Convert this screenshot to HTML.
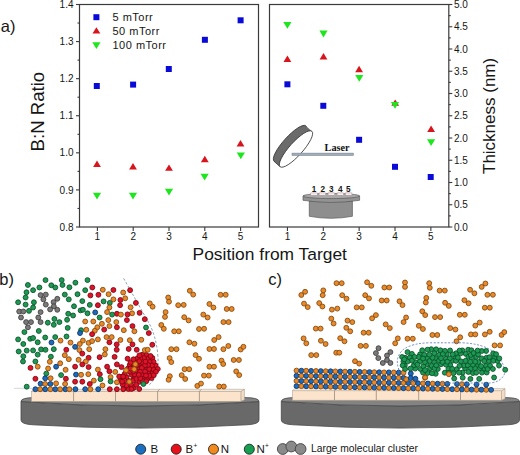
<!DOCTYPE html>
<html><head><meta charset="utf-8"><style>
html,body{margin:0;padding:0;background:#fff;overflow:hidden;}
svg{display:block;font-family:"Liberation Sans",sans-serif;}
</style></head><body>
<svg width="520" height="455" viewBox="0 0 520 455" font-family="Liberation Sans, sans-serif">
<rect width="520" height="455" fill="#fff"/>
<rect x="79.5" y="4.5" width="179.0" height="222.5" fill="none" stroke="#3a3a3a" stroke-width="1.2"/>
<line x1="97.40" y1="227" x2="97.40" y2="231" stroke="#3a3a3a" stroke-width="1.1"/>
<text x="97.40" y="240.3" font-size="10" text-anchor="middle" fill="#161616">1</text>
<line x1="133.20" y1="227" x2="133.20" y2="231" stroke="#3a3a3a" stroke-width="1.1"/>
<text x="133.20" y="240.3" font-size="10" text-anchor="middle" fill="#161616">2</text>
<line x1="169.00" y1="227" x2="169.00" y2="231" stroke="#3a3a3a" stroke-width="1.1"/>
<text x="169.00" y="240.3" font-size="10" text-anchor="middle" fill="#161616">3</text>
<line x1="204.80" y1="227" x2="204.80" y2="231" stroke="#3a3a3a" stroke-width="1.1"/>
<text x="204.80" y="240.3" font-size="10" text-anchor="middle" fill="#161616">4</text>
<line x1="240.60" y1="227" x2="240.60" y2="231" stroke="#3a3a3a" stroke-width="1.1"/>
<text x="240.60" y="240.3" font-size="10" text-anchor="middle" fill="#161616">5</text>
<rect x="269.5" y="4.5" width="179.3" height="222.5" fill="none" stroke="#3a3a3a" stroke-width="1.2"/>
<line x1="287.43" y1="227" x2="287.43" y2="231" stroke="#3a3a3a" stroke-width="1.1"/>
<text x="287.43" y="240.3" font-size="10" text-anchor="middle" fill="#161616">1</text>
<line x1="323.29" y1="227" x2="323.29" y2="231" stroke="#3a3a3a" stroke-width="1.1"/>
<text x="323.29" y="240.3" font-size="10" text-anchor="middle" fill="#161616">2</text>
<line x1="359.15" y1="227" x2="359.15" y2="231" stroke="#3a3a3a" stroke-width="1.1"/>
<text x="359.15" y="240.3" font-size="10" text-anchor="middle" fill="#161616">3</text>
<line x1="395.01" y1="227" x2="395.01" y2="231" stroke="#3a3a3a" stroke-width="1.1"/>
<text x="395.01" y="240.3" font-size="10" text-anchor="middle" fill="#161616">4</text>
<line x1="430.87" y1="227" x2="430.87" y2="231" stroke="#3a3a3a" stroke-width="1.1"/>
<text x="430.87" y="240.3" font-size="10" text-anchor="middle" fill="#161616">5</text>
<line x1="76.0" y1="227.00" x2="79.5" y2="227.00" stroke="#3a3a3a" stroke-width="1.1"/>
<text x="73.5" y="230.60" font-size="10" text-anchor="end" fill="#161616">0.8</text>
<line x1="77.5" y1="208.46" x2="79.5" y2="208.46" stroke="#3a3a3a" stroke-width="1.1"/>
<line x1="76.0" y1="189.92" x2="79.5" y2="189.92" stroke="#3a3a3a" stroke-width="1.1"/>
<text x="73.5" y="193.52" font-size="10" text-anchor="end" fill="#161616">0.9</text>
<line x1="77.5" y1="171.38" x2="79.5" y2="171.38" stroke="#3a3a3a" stroke-width="1.1"/>
<line x1="76.0" y1="152.83" x2="79.5" y2="152.83" stroke="#3a3a3a" stroke-width="1.1"/>
<text x="73.5" y="156.43" font-size="10" text-anchor="end" fill="#161616">1.0</text>
<line x1="77.5" y1="134.29" x2="79.5" y2="134.29" stroke="#3a3a3a" stroke-width="1.1"/>
<line x1="76.0" y1="115.75" x2="79.5" y2="115.75" stroke="#3a3a3a" stroke-width="1.1"/>
<text x="73.5" y="119.35" font-size="10" text-anchor="end" fill="#161616">1.1</text>
<line x1="77.5" y1="97.21" x2="79.5" y2="97.21" stroke="#3a3a3a" stroke-width="1.1"/>
<line x1="76.0" y1="78.67" x2="79.5" y2="78.67" stroke="#3a3a3a" stroke-width="1.1"/>
<text x="73.5" y="82.27" font-size="10" text-anchor="end" fill="#161616">1.2</text>
<line x1="77.5" y1="60.12" x2="79.5" y2="60.12" stroke="#3a3a3a" stroke-width="1.1"/>
<line x1="76.0" y1="41.58" x2="79.5" y2="41.58" stroke="#3a3a3a" stroke-width="1.1"/>
<text x="73.5" y="45.18" font-size="10" text-anchor="end" fill="#161616">1.3</text>
<line x1="77.5" y1="23.04" x2="79.5" y2="23.04" stroke="#3a3a3a" stroke-width="1.1"/>
<line x1="76.0" y1="4.50" x2="79.5" y2="4.50" stroke="#3a3a3a" stroke-width="1.1"/>
<text x="73.5" y="8.10" font-size="10" text-anchor="end" fill="#161616">1.4</text>
<line x1="448.8" y1="227.00" x2="452.3" y2="227.00" stroke="#3a3a3a" stroke-width="1.1"/>
<text x="454" y="230.60" font-size="10" fill="#161616">0.0</text>
<line x1="448.8" y1="215.88" x2="450.8" y2="215.88" stroke="#3a3a3a" stroke-width="1.1"/>
<line x1="448.8" y1="204.75" x2="452.3" y2="204.75" stroke="#3a3a3a" stroke-width="1.1"/>
<text x="454" y="208.35" font-size="10" fill="#161616">0.5</text>
<line x1="448.8" y1="193.62" x2="450.8" y2="193.62" stroke="#3a3a3a" stroke-width="1.1"/>
<line x1="448.8" y1="182.50" x2="452.3" y2="182.50" stroke="#3a3a3a" stroke-width="1.1"/>
<text x="454" y="186.10" font-size="10" fill="#161616">1.0</text>
<line x1="448.8" y1="171.38" x2="450.8" y2="171.38" stroke="#3a3a3a" stroke-width="1.1"/>
<line x1="448.8" y1="160.25" x2="452.3" y2="160.25" stroke="#3a3a3a" stroke-width="1.1"/>
<text x="454" y="163.85" font-size="10" fill="#161616">1.5</text>
<line x1="448.8" y1="149.12" x2="450.8" y2="149.12" stroke="#3a3a3a" stroke-width="1.1"/>
<line x1="448.8" y1="138.00" x2="452.3" y2="138.00" stroke="#3a3a3a" stroke-width="1.1"/>
<text x="454" y="141.60" font-size="10" fill="#161616">2.0</text>
<line x1="448.8" y1="126.88" x2="450.8" y2="126.88" stroke="#3a3a3a" stroke-width="1.1"/>
<line x1="448.8" y1="115.75" x2="452.3" y2="115.75" stroke="#3a3a3a" stroke-width="1.1"/>
<text x="454" y="119.35" font-size="10" fill="#161616">2.5</text>
<line x1="448.8" y1="104.62" x2="450.8" y2="104.62" stroke="#3a3a3a" stroke-width="1.1"/>
<line x1="448.8" y1="93.50" x2="452.3" y2="93.50" stroke="#3a3a3a" stroke-width="1.1"/>
<text x="454" y="97.10" font-size="10" fill="#161616">3.0</text>
<line x1="448.8" y1="82.38" x2="450.8" y2="82.38" stroke="#3a3a3a" stroke-width="1.1"/>
<line x1="448.8" y1="71.25" x2="452.3" y2="71.25" stroke="#3a3a3a" stroke-width="1.1"/>
<text x="454" y="74.85" font-size="10" fill="#161616">3.5</text>
<line x1="448.8" y1="60.12" x2="450.8" y2="60.12" stroke="#3a3a3a" stroke-width="1.1"/>
<line x1="448.8" y1="49.00" x2="452.3" y2="49.00" stroke="#3a3a3a" stroke-width="1.1"/>
<text x="454" y="52.60" font-size="10" fill="#161616">4.0</text>
<line x1="448.8" y1="37.88" x2="450.8" y2="37.88" stroke="#3a3a3a" stroke-width="1.1"/>
<line x1="448.8" y1="26.75" x2="452.3" y2="26.75" stroke="#3a3a3a" stroke-width="1.1"/>
<text x="454" y="30.35" font-size="10" fill="#161616">4.5</text>
<line x1="448.8" y1="15.62" x2="450.8" y2="15.62" stroke="#3a3a3a" stroke-width="1.1"/>
<line x1="448.8" y1="4.50" x2="452.3" y2="4.50" stroke="#3a3a3a" stroke-width="1.1"/>
<text x="454" y="8.10" font-size="10" fill="#161616">5.0</text>
<text x="192.6" y="259.6" font-size="17.4" fill="#161616">Position from Target</text>
<text transform="translate(43.8,151.4) rotate(-90)" font-size="18.6" fill="#161616">B:N Ratio</text>
<text transform="translate(495,174) rotate(-90)" font-size="17" fill="#161616">Thickness (nm)</text>
<text x="0.8" y="31.6" font-size="16.5" fill="#161616">a)</text>
<text x="-0.8" y="284.6" font-size="16.5" fill="#161616">b)</text>
<text x="268.3" y="284.6" font-size="16.5" fill="#161616">c)</text>
<rect x="93.80" y="83.00" width="6" height="6" fill="#0a0ad8"/>
<rect x="130.10" y="81.60" width="6" height="6" fill="#0a0ad8"/>
<rect x="165.80" y="66.00" width="6" height="6" fill="#0a0ad8"/>
<rect x="201.90" y="36.80" width="6" height="6" fill="#0a0ad8"/>
<rect x="237.60" y="17.30" width="6" height="6" fill="#0a0ad8"/>
<path d="M97.00,160.60L100.90,167.00L93.10,167.00Z" fill="#d8141c"/>
<path d="M133.00,163.10L136.90,169.50L129.10,169.50Z" fill="#d8141c"/>
<path d="M169.00,164.40L172.90,170.80L165.10,170.80Z" fill="#d8141c"/>
<path d="M204.80,155.80L208.70,162.20L200.90,162.20Z" fill="#d8141c"/>
<path d="M240.50,140.10L244.40,146.50L236.60,146.50Z" fill="#d8141c"/>
<path d="M92.90,192.70L101.10,192.70L97.00,199.50Z" fill="#1ee61e"/>
<path d="M128.90,192.70L137.10,192.70L133.00,199.50Z" fill="#1ee61e"/>
<path d="M164.90,188.70L173.10,188.70L169.00,195.50Z" fill="#1ee61e"/>
<path d="M200.50,173.70L208.70,173.70L204.60,180.50Z" fill="#1ee61e"/>
<path d="M236.70,152.40L244.90,152.40L240.80,159.20Z" fill="#1ee61e"/>
<rect x="93.40" y="14.20" width="6" height="6" fill="#0a0ad8"/>
<path d="M96.40,27.20L100.30,33.60L92.50,33.60Z" fill="#d8141c"/>
<path d="M92.30,42.20L100.50,42.20L96.40,49.00Z" fill="#1ee61e"/>
<text x="112.5" y="20.8" font-size="11" letter-spacing="0.5" fill="#161616">5 mTorr</text>
<text x="112.5" y="34.6" font-size="11" letter-spacing="0.5" fill="#161616">50 mTorr</text>
<text x="112.5" y="48.6" font-size="11" letter-spacing="0.5" fill="#161616">100 mTorr</text>
<rect x="284.40" y="81.30" width="6" height="6" fill="#0a0ad8"/>
<rect x="320.30" y="102.80" width="6" height="6" fill="#0a0ad8"/>
<rect x="356.10" y="136.80" width="6" height="6" fill="#0a0ad8"/>
<rect x="392.00" y="163.80" width="6" height="6" fill="#0a0ad8"/>
<rect x="427.70" y="174.00" width="6" height="6" fill="#0a0ad8"/>
<path d="M287.40,55.60L291.30,62.00L283.50,62.00Z" fill="#d8141c"/>
<path d="M323.50,53.00L327.40,59.40L319.60,59.40Z" fill="#d8141c"/>
<path d="M359.10,65.80L363.00,72.20L355.20,72.20Z" fill="#d8141c"/>
<path d="M395.20,99.40L399.10,105.80L391.30,105.80Z" fill="#d8141c"/>
<path d="M431.10,125.50L435.00,131.90L427.20,131.90Z" fill="#d8141c"/>
<path d="M283.30,21.90L291.50,21.90L287.40,28.70Z" fill="#1ee61e"/>
<path d="M319.40,30.60L327.60,30.60L323.50,37.40Z" fill="#1ee61e"/>
<path d="M355.20,75.00L363.40,75.00L359.30,81.80Z" fill="#1ee61e"/>
<path d="M390.90,101.90L399.10,101.90L395.00,108.70Z" fill="#1ee61e"/>
<path d="M427.00,139.20L435.20,139.20L431.10,146.00Z" fill="#1ee61e"/>
<ellipse cx="290.00" cy="143.60" rx="23.8" ry="6.6" transform="rotate(-48.0 290.00 143.60)" fill="#6b6b6b" stroke="#333" stroke-width="0.8"/>
<path d="M311.93,131.31 L305.93,125.91 L274.07,161.29 L280.07,166.69 Z" fill="#6b6b6b"/>
<line x1="280.07" y1="166.69" x2="274.07" y2="161.29" stroke="#333" stroke-width="0.8"/>
<ellipse cx="296.0" cy="149.0" rx="23.8" ry="6.6" transform="rotate(-48.0 296.0 149.0)" fill="#fff" stroke="#333" stroke-width="0.8"/>
<rect x="292" y="153.1" width="61.5" height="2.4" fill="#a3adb9" stroke="#6d7a88" stroke-width="0.5"/>
<text x="324.6" y="150.8" font-size="10.2" font-weight="bold" font-family="Liberation Serif, serif" fill="#111">Laser</text>
<path d="M309.3,201 L309.3,216.3 Q330.8,220.3 352.4,216.3 L352.4,201 Z" fill="#8e8e8e" stroke="#5a5a5a" stroke-width="0.7"/>
<path d="M303,196 L303,200.3 Q331.3,204.6 359.6,200.3 L359.6,196 Z" fill="#939393" stroke="#5a5a5a" stroke-width="0.7"/>
<ellipse cx="331.3" cy="196" rx="28.3" ry="2.6" fill="#a9a9a9" stroke="#5a5a5a" stroke-width="0.7"/>
<rect x="310.8" y="192.9" width="6.5" height="2.4" fill="#fbeaec" stroke="#9a8a8e" stroke-width="0.45"/>
<rect x="319.1" y="192.9" width="6.5" height="2.4" fill="#fbeaec" stroke="#9a8a8e" stroke-width="0.45"/>
<rect x="328.1" y="192.9" width="6.5" height="2.4" fill="#fbeaec" stroke="#9a8a8e" stroke-width="0.45"/>
<rect x="337.1" y="192.9" width="6.5" height="2.4" fill="#fbeaec" stroke="#9a8a8e" stroke-width="0.45"/>
<rect x="345.4" y="192.9" width="6.5" height="2.4" fill="#fbeaec" stroke="#9a8a8e" stroke-width="0.45"/>
<text x="314.1" y="191.8" font-size="8.2" font-weight="bold" text-anchor="middle" fill="#161616">1</text>
<text x="322.7" y="191.8" font-size="8.2" font-weight="bold" text-anchor="middle" fill="#161616">2</text>
<text x="331.2" y="191.8" font-size="8.2" font-weight="bold" text-anchor="middle" fill="#161616">3</text>
<text x="340.4" y="191.8" font-size="8.2" font-weight="bold" text-anchor="middle" fill="#161616">4</text>
<text x="348.2" y="191.8" font-size="8.2" font-weight="bold" text-anchor="middle" fill="#161616">5</text>
<path d="M21,401.5 Q140.0,410.5 259,401.5 L259,420 Q259,424.2 247,424.8 Q140.0,431.4 33,424.8 Q21,424.2 21,420 Z" fill="#696969" stroke="#484848" stroke-width="0.8"/>
<path d="M21,401.5 Q21,397.6 35,397.6 L245,397.6 Q259,397.6 259,401.5 Q140.0,410.5 21,401.5 Z" fill="#838383" stroke="#4a4a4a" stroke-width="0.8"/>
<path d="M240.9,391.3 L244.4,389.3 L244.4,399.8 L240.9,401.3 Z" fill="#f4dcc4" stroke="#a8a098" stroke-width="0.6"/>
<rect x="31.6" y="391.3" width="209.3" height="10.0" fill="#fce3cc" stroke="#b3a594" stroke-width="0.6"/>
<path d="M31.6,391.3 L33.6,389.3 L244.4,389.3 L240.9,391.3 Z" fill="#fdf0e3" stroke="#b3a594" stroke-width="0.6"/>
<path d="M73.6,401.3 L73.6,391.3 L75.6,389.3" fill="none" stroke="#9a8a78" stroke-width="0.8"/>
<path d="M115.5,401.3 L115.5,391.3 L117.5,389.3" fill="none" stroke="#9a8a78" stroke-width="0.8"/>
<path d="M157.6,401.3 L157.6,391.3 L159.6,389.3" fill="none" stroke="#9a8a78" stroke-width="0.8"/>
<path d="M199.4,401.3 L199.4,391.3 L201.4,389.3" fill="none" stroke="#9a8a78" stroke-width="0.8"/>
<path d="M281.3,401.5 Q400.4,410.5 519.5,401.5 L519.5,420 Q519.5,424.2 507.5,424.8 Q400.4,431.4 293.3,424.8 Q281.3,424.2 281.3,420 Z" fill="#696969" stroke="#484848" stroke-width="0.8"/>
<path d="M281.3,401.5 Q281.3,397.6 295.3,397.6 L505.5,397.6 Q519.5,397.6 519.5,401.5 Q400.4,410.5 281.3,401.5 Z" fill="#838383" stroke="#4a4a4a" stroke-width="0.8"/>
<path d="M501.5,390.7 L505,388.7 L505,398.7 L501.5,400.2 Z" fill="#f4dcc4" stroke="#a8a098" stroke-width="0.6"/>
<rect x="292.5" y="390.7" width="209.0" height="9.5" fill="#fce3cc" stroke="#b3a594" stroke-width="0.6"/>
<path d="M292.5,390.7 L294.5,388.7 L505,388.7 L501.5,390.7 Z" fill="#fdf0e3" stroke="#b3a594" stroke-width="0.6"/>
<path d="M334.5,400.2 L334.5,390.7 L336.5,388.7" fill="none" stroke="#9a8a78" stroke-width="0.8"/>
<path d="M376.3,400.2 L376.3,390.7 L378.3,388.7" fill="none" stroke="#9a8a78" stroke-width="0.8"/>
<path d="M418.7,400.2 L418.7,390.7 L420.7,388.7" fill="none" stroke="#9a8a78" stroke-width="0.8"/>
<path d="M460.5,400.2 L460.5,390.7 L462.5,388.7" fill="none" stroke="#9a8a78" stroke-width="0.8"/>
<line x1="14" y1="388.3" x2="32" y2="388.3" stroke="#b8b8b8" stroke-width="0.6"/>
<path d="M123.6,278.3 L150,325 C153.5,332 156.5,342 157.5,352 C158.5,362 158.5,370 156,376 C154,380 151.5,383 149,385" fill="none" stroke="#8fa3b6" stroke-width="1" stroke-dasharray="2.6,1.8"/>
<circle cx="146.3" cy="355.0" r="2.45" fill="#e0122a" stroke="#7a0810" stroke-width="0.9"/>
<circle cx="148.3" cy="358.4" r="2.45" fill="#e0122a" stroke="#7a0810" stroke-width="0.9"/>
<circle cx="131.4" cy="385.4" r="2.45" fill="#e0122a" stroke="#7a0810" stroke-width="0.9"/>
<circle cx="144.7" cy="377.6" r="2.45" fill="#e0122a" stroke="#7a0810" stroke-width="0.9"/>
<circle cx="133.6" cy="388.1" r="2.45" fill="#e0122a" stroke="#7a0810" stroke-width="0.9"/>
<circle cx="132.5" cy="364.7" r="2.45" fill="#e0122a" stroke="#7a0810" stroke-width="0.9"/>
<circle cx="142.1" cy="354.8" r="2.45" fill="#e0122a" stroke="#7a0810" stroke-width="0.9"/>
<circle cx="126.5" cy="377.2" r="2.45" fill="#e0122a" stroke="#7a0810" stroke-width="0.9"/>
<circle cx="128.5" cy="389.0" r="2.45" fill="#e0122a" stroke="#7a0810" stroke-width="0.9"/>
<circle cx="120.6" cy="380.8" r="2.45" fill="#e0122a" stroke="#7a0810" stroke-width="0.9"/>
<circle cx="152.4" cy="358.0" r="2.45" fill="#e0122a" stroke="#7a0810" stroke-width="0.9"/>
<circle cx="143.9" cy="358.0" r="2.45" fill="#e0122a" stroke="#7a0810" stroke-width="0.9"/>
<circle cx="141.1" cy="365.0" r="2.45" fill="#e0122a" stroke="#7a0810" stroke-width="0.9"/>
<circle cx="147.5" cy="378.8" r="2.45" fill="#e0122a" stroke="#7a0810" stroke-width="0.9"/>
<circle cx="136.6" cy="371.6" r="2.45" fill="#e0122a" stroke="#7a0810" stroke-width="0.9"/>
<circle cx="133.7" cy="378.9" r="2.45" fill="#e0122a" stroke="#7a0810" stroke-width="0.9"/>
<circle cx="131.4" cy="374.7" r="2.45" fill="#e0122a" stroke="#7a0810" stroke-width="0.9"/>
<circle cx="155.5" cy="365.5" r="2.45" fill="#e0122a" stroke="#7a0810" stroke-width="0.9"/>
<circle cx="135.7" cy="362.5" r="2.45" fill="#e0122a" stroke="#7a0810" stroke-width="0.9"/>
<circle cx="152.2" cy="372.2" r="2.45" fill="#e0122a" stroke="#7a0810" stroke-width="0.9"/>
<circle cx="129.7" cy="365.0" r="2.45" fill="#e0122a" stroke="#7a0810" stroke-width="0.9"/>
<circle cx="129.4" cy="381.0" r="2.45" fill="#e0122a" stroke="#7a0810" stroke-width="0.9"/>
<circle cx="122.9" cy="376.4" r="2.45" fill="#e0122a" stroke="#7a0810" stroke-width="0.9"/>
<circle cx="127.9" cy="368.6" r="2.45" fill="#e0122a" stroke="#7a0810" stroke-width="0.9"/>
<circle cx="133.2" cy="380.5" r="2.45" fill="#e0122a" stroke="#7a0810" stroke-width="0.9"/>
<circle cx="124.4" cy="380.6" r="2.45" fill="#e0122a" stroke="#7a0810" stroke-width="0.9"/>
<circle cx="146.9" cy="368.0" r="2.45" fill="#e0122a" stroke="#7a0810" stroke-width="0.9"/>
<circle cx="124.8" cy="373.8" r="2.45" fill="#e0122a" stroke="#7a0810" stroke-width="0.9"/>
<circle cx="153.1" cy="369.1" r="2.45" fill="#e0122a" stroke="#7a0810" stroke-width="0.9"/>
<circle cx="130.7" cy="362.4" r="2.45" fill="#e0122a" stroke="#7a0810" stroke-width="0.9"/>
<circle cx="140.3" cy="358.5" r="2.45" fill="#e0122a" stroke="#7a0810" stroke-width="0.9"/>
<circle cx="153.6" cy="361.9" r="2.45" fill="#e0122a" stroke="#7a0810" stroke-width="0.9"/>
<circle cx="137.1" cy="358.7" r="2.45" fill="#e0122a" stroke="#7a0810" stroke-width="0.9"/>
<circle cx="139.2" cy="367.8" r="2.45" fill="#e0122a" stroke="#7a0810" stroke-width="0.9"/>
<circle cx="142.0" cy="374.8" r="2.45" fill="#e0122a" stroke="#7a0810" stroke-width="0.9"/>
<circle cx="148.5" cy="371.2" r="2.45" fill="#e0122a" stroke="#7a0810" stroke-width="0.9"/>
<circle cx="139.5" cy="381.8" r="2.45" fill="#e0122a" stroke="#7a0810" stroke-width="0.9"/>
<circle cx="150.5" cy="356.0" r="2.45" fill="#e0122a" stroke="#7a0810" stroke-width="0.9"/>
<circle cx="151.5" cy="378.1" r="2.45" fill="#e0122a" stroke="#7a0810" stroke-width="0.9"/>
<circle cx="149.6" cy="362.0" r="2.45" fill="#e0122a" stroke="#7a0810" stroke-width="0.9"/>
<circle cx="142.7" cy="362.6" r="2.45" fill="#e0122a" stroke="#7a0810" stroke-width="0.9"/>
<circle cx="157.8" cy="369.0" r="2.45" fill="#e0122a" stroke="#7a0810" stroke-width="0.9"/>
<circle cx="145.1" cy="371.6" r="2.45" fill="#e0122a" stroke="#7a0810" stroke-width="0.9"/>
<circle cx="136.5" cy="378.9" r="2.45" fill="#e0122a" stroke="#7a0810" stroke-width="0.9"/>
<circle cx="124.1" cy="388.2" r="2.45" fill="#e0122a" stroke="#7a0810" stroke-width="0.9"/>
<circle cx="134.2" cy="367.9" r="2.45" fill="#e0122a" stroke="#7a0810" stroke-width="0.9"/>
<circle cx="151.9" cy="365.6" r="2.45" fill="#e0122a" stroke="#7a0810" stroke-width="0.9"/>
<circle cx="149.4" cy="375.8" r="2.45" fill="#e0122a" stroke="#7a0810" stroke-width="0.9"/>
<circle cx="134.5" cy="374.3" r="2.45" fill="#e0122a" stroke="#7a0810" stroke-width="0.9"/>
<circle cx="132.9" cy="371.6" r="2.45" fill="#e0122a" stroke="#7a0810" stroke-width="0.9"/>
<circle cx="126.4" cy="385.4" r="2.45" fill="#e0122a" stroke="#7a0810" stroke-width="0.9"/>
<circle cx="122.5" cy="384.4" r="2.45" fill="#e0122a" stroke="#7a0810" stroke-width="0.9"/>
<circle cx="149.2" cy="369.0" r="2.45" fill="#e0122a" stroke="#7a0810" stroke-width="0.9"/>
<circle cx="139.3" cy="361.2" r="2.45" fill="#e0122a" stroke="#7a0810" stroke-width="0.9"/>
<circle cx="148.0" cy="365.0" r="2.45" fill="#e0122a" stroke="#7a0810" stroke-width="0.9"/>
<circle cx="144.9" cy="365.4" r="2.45" fill="#e0122a" stroke="#7a0810" stroke-width="0.9"/>
<circle cx="133.5" cy="359.3" r="2.45" fill="#e0122a" stroke="#7a0810" stroke-width="0.9"/>
<circle cx="155.9" cy="371.8" r="2.45" fill="#e0122a" stroke="#7a0810" stroke-width="0.9"/>
<circle cx="146.0" cy="375.5" r="2.45" fill="#e0122a" stroke="#7a0810" stroke-width="0.9"/>
<circle cx="136.7" cy="365.4" r="2.45" fill="#e0122a" stroke="#7a0810" stroke-width="0.9"/>
<circle cx="141.8" cy="367.9" r="2.45" fill="#e0122a" stroke="#7a0810" stroke-width="0.9"/>
<circle cx="139.4" cy="355.4" r="2.45" fill="#e0122a" stroke="#7a0810" stroke-width="0.9"/>
<circle cx="129.8" cy="371.6" r="2.45" fill="#e0122a" stroke="#7a0810" stroke-width="0.9"/>
<circle cx="136.3" cy="384.8" r="2.45" fill="#e0122a" stroke="#7a0810" stroke-width="0.9"/>
<circle cx="130.6" cy="368.6" r="2.45" fill="#e0122a" stroke="#7a0810" stroke-width="0.9"/>
<circle cx="153.7" cy="375.2" r="2.45" fill="#e0122a" stroke="#7a0810" stroke-width="0.9"/>
<circle cx="142.6" cy="380.9" r="2.45" fill="#e0122a" stroke="#7a0810" stroke-width="0.9"/>
<circle cx="140.0" cy="371.8" r="2.45" fill="#e0122a" stroke="#7a0810" stroke-width="0.9"/>
<circle cx="145.5" cy="361.6" r="2.45" fill="#e0122a" stroke="#7a0810" stroke-width="0.9"/>
<circle cx="146.2" cy="381.3" r="2.45" fill="#e0122a" stroke="#7a0810" stroke-width="0.9"/>
<circle cx="140.3" cy="378.2" r="2.45" fill="#e0122a" stroke="#7a0810" stroke-width="0.9"/>
<circle cx="138.7" cy="374.8" r="2.45" fill="#e0122a" stroke="#7a0810" stroke-width="0.9"/>
<circle cx="45.5" cy="280.1" r="2.45" fill="#1c9a54" stroke="#0b5229" stroke-width="0.9"/>
<circle cx="61.7" cy="280.1" r="2.45" fill="#1c9a54" stroke="#0b5229" stroke-width="0.9"/>
<circle cx="62.5" cy="285.0" r="2.45" fill="#1c9a54" stroke="#0b5229" stroke-width="0.9"/>
<circle cx="27.9" cy="285.0" r="2.45" fill="#1c9a54" stroke="#0b5229" stroke-width="0.9"/>
<circle cx="39.4" cy="287.5" r="2.45" fill="#1c9a54" stroke="#0b5229" stroke-width="0.9"/>
<circle cx="51.3" cy="285.3" r="2.45" fill="#1c9a54" stroke="#0b5229" stroke-width="0.9"/>
<circle cx="55.3" cy="287.5" r="2.45" fill="#1c9a54" stroke="#0b5229" stroke-width="0.9"/>
<circle cx="33.1" cy="290.2" r="2.45" fill="#1c9a54" stroke="#0b5229" stroke-width="0.9"/>
<circle cx="26.5" cy="292.3" r="2.45" fill="#1c9a54" stroke="#0b5229" stroke-width="0.9"/>
<circle cx="25.6" cy="297.5" r="2.45" fill="#1c9a54" stroke="#0b5229" stroke-width="0.9"/>
<circle cx="64.8" cy="294.6" r="2.45" fill="#1c9a54" stroke="#0b5229" stroke-width="0.9"/>
<circle cx="69.4" cy="287.3" r="2.45" fill="#1c9a54" stroke="#0b5229" stroke-width="0.9"/>
<circle cx="68.8" cy="299.4" r="2.45" fill="#1c9a54" stroke="#0b5229" stroke-width="0.9"/>
<circle cx="18.1" cy="302.3" r="2.45" fill="#1c9a54" stroke="#0b5229" stroke-width="0.9"/>
<circle cx="33.9" cy="302.3" r="2.45" fill="#1c9a54" stroke="#0b5229" stroke-width="0.9"/>
<circle cx="25.6" cy="304.6" r="2.45" fill="#1c9a54" stroke="#0b5229" stroke-width="0.9"/>
<circle cx="33.1" cy="307.5" r="2.45" fill="#1c9a54" stroke="#0b5229" stroke-width="0.9"/>
<circle cx="29.0" cy="310.9" r="2.45" fill="#1c9a54" stroke="#0b5229" stroke-width="0.9"/>
<circle cx="68.2" cy="313.8" r="2.45" fill="#1c9a54" stroke="#0b5229" stroke-width="0.9"/>
<circle cx="40.6" cy="295.1" r="2.45" fill="#7a7a7a" stroke="#404040" stroke-width="0.9"/>
<circle cx="45.8" cy="294.6" r="2.45" fill="#7a7a7a" stroke="#404040" stroke-width="0.9"/>
<circle cx="43.4" cy="299.4" r="2.45" fill="#7a7a7a" stroke="#404040" stroke-width="0.9"/>
<circle cx="45.8" cy="304.6" r="2.45" fill="#7a7a7a" stroke="#404040" stroke-width="0.9"/>
<circle cx="57.3" cy="298.8" r="2.45" fill="#7a7a7a" stroke="#404040" stroke-width="0.9"/>
<circle cx="53.6" cy="302.1" r="2.45" fill="#7a7a7a" stroke="#404040" stroke-width="0.9"/>
<circle cx="53.8" cy="306.3" r="2.45" fill="#7a7a7a" stroke="#404040" stroke-width="0.9"/>
<circle cx="50.1" cy="309.4" r="2.45" fill="#7a7a7a" stroke="#404040" stroke-width="0.9"/>
<circle cx="57.3" cy="309.8" r="2.45" fill="#7a7a7a" stroke="#404040" stroke-width="0.9"/>
<circle cx="19.2" cy="311.5" r="2.45" fill="#7a7a7a" stroke="#404040" stroke-width="0.9"/>
<circle cx="23.3" cy="311.5" r="2.45" fill="#7a7a7a" stroke="#404040" stroke-width="0.9"/>
<circle cx="40.6" cy="312.1" r="2.45" fill="#7a7a7a" stroke="#404040" stroke-width="0.9"/>
<circle cx="87.5" cy="280.1" r="2.45" fill="#1c9a54" stroke="#0b5229" stroke-width="0.9"/>
<circle cx="75.4" cy="282.7" r="2.45" fill="#1c9a54" stroke="#0b5229" stroke-width="0.9"/>
<circle cx="85.2" cy="290.2" r="2.45" fill="#1c9a54" stroke="#0b5229" stroke-width="0.9"/>
<circle cx="77.5" cy="294.2" r="2.45" fill="#1c9a54" stroke="#0b5229" stroke-width="0.9"/>
<circle cx="82.3" cy="301.1" r="2.45" fill="#1c9a54" stroke="#0b5229" stroke-width="0.9"/>
<circle cx="74.0" cy="306.3" r="2.45" fill="#1c9a54" stroke="#0b5229" stroke-width="0.9"/>
<circle cx="89.8" cy="304.9" r="2.45" fill="#1c9a54" stroke="#0b5229" stroke-width="0.9"/>
<circle cx="103.6" cy="301.4" r="2.45" fill="#1c9a54" stroke="#0b5229" stroke-width="0.9"/>
<circle cx="109.8" cy="302.9" r="2.45" fill="#1c9a54" stroke="#0b5229" stroke-width="0.9"/>
<circle cx="80.6" cy="310.4" r="2.45" fill="#1c9a54" stroke="#0b5229" stroke-width="0.9"/>
<circle cx="82.9" cy="309.8" r="2.45" fill="#1c9a54" stroke="#0b5229" stroke-width="0.9"/>
<circle cx="87.5" cy="313.3" r="2.45" fill="#1c9a54" stroke="#0b5229" stroke-width="0.9"/>
<circle cx="92.3" cy="287.5" r="2.45" fill="#e0122a" stroke="#7a0810" stroke-width="0.9"/>
<circle cx="113.4" cy="290.0" r="2.45" fill="#e0122a" stroke="#7a0810" stroke-width="0.9"/>
<circle cx="90.4" cy="295.4" r="2.45" fill="#e0122a" stroke="#7a0810" stroke-width="0.9"/>
<circle cx="98.4" cy="294.8" r="2.45" fill="#e0122a" stroke="#7a0810" stroke-width="0.9"/>
<circle cx="120.4" cy="300.0" r="2.45" fill="#e0122a" stroke="#7a0810" stroke-width="0.9"/>
<circle cx="120.1" cy="305.2" r="2.45" fill="#e0122a" stroke="#7a0810" stroke-width="0.9"/>
<circle cx="97.9" cy="305.2" r="2.45" fill="#e0122a" stroke="#7a0810" stroke-width="0.9"/>
<circle cx="116.9" cy="313.8" r="2.45" fill="#e0122a" stroke="#7a0810" stroke-width="0.9"/>
<circle cx="102.8" cy="289.8" r="2.45" fill="#e8892a" stroke="#874a0c" stroke-width="0.9"/>
<circle cx="108.6" cy="294.2" r="2.45" fill="#e8892a" stroke="#874a0c" stroke-width="0.9"/>
<circle cx="113.4" cy="299.4" r="2.45" fill="#e8892a" stroke="#874a0c" stroke-width="0.9"/>
<circle cx="123.2" cy="292.5" r="2.45" fill="#e8892a" stroke="#874a0c" stroke-width="0.9"/>
<circle cx="109.4" cy="307.5" r="2.45" fill="#e8892a" stroke="#874a0c" stroke-width="0.9"/>
<circle cx="107.1" cy="312.1" r="2.45" fill="#e8892a" stroke="#874a0c" stroke-width="0.9"/>
<circle cx="95.2" cy="312.4" r="2.45" fill="#1c6abd" stroke="#0c3566" stroke-width="0.9"/>
<circle cx="130.1" cy="290.2" r="2.45" fill="#e0122a" stroke="#7a0810" stroke-width="0.9"/>
<circle cx="125.2" cy="298.3" r="2.45" fill="#e8892a" stroke="#874a0c" stroke-width="0.9"/>
<circle cx="135.9" cy="302.9" r="2.45" fill="#e0122a" stroke="#7a0810" stroke-width="0.9"/>
<circle cx="130.6" cy="307.3" r="2.45" fill="#e8892a" stroke="#874a0c" stroke-width="0.9"/>
<circle cx="132.1" cy="313.3" r="2.45" fill="#e8892a" stroke="#874a0c" stroke-width="0.9"/>
<circle cx="127.5" cy="314.4" r="2.45" fill="#e0122a" stroke="#7a0810" stroke-width="0.9"/>
<circle cx="139.6" cy="312.9" r="2.45" fill="#e0122a" stroke="#7a0810" stroke-width="0.9"/>
<circle cx="149.8" cy="303.4" r="2.45" fill="#e8892a" stroke="#874a0c" stroke-width="0.9"/>
<circle cx="152.6" cy="306.7" r="2.45" fill="#e8892a" stroke="#874a0c" stroke-width="0.9"/>
<circle cx="168.2" cy="297.5" r="2.45" fill="#e8892a" stroke="#874a0c" stroke-width="0.9"/>
<circle cx="169.0" cy="301.7" r="2.45" fill="#e8892a" stroke="#874a0c" stroke-width="0.9"/>
<circle cx="178.2" cy="305.2" r="2.45" fill="#e8892a" stroke="#874a0c" stroke-width="0.9"/>
<circle cx="165.6" cy="312.1" r="2.45" fill="#e8892a" stroke="#874a0c" stroke-width="0.9"/>
<circle cx="183.7" cy="304.9" r="2.45" fill="#e8892a" stroke="#874a0c" stroke-width="0.9"/>
<circle cx="189.8" cy="290.8" r="2.45" fill="#e8892a" stroke="#874a0c" stroke-width="0.9"/>
<circle cx="193.2" cy="294.6" r="2.45" fill="#e8892a" stroke="#874a0c" stroke-width="0.9"/>
<circle cx="220.6" cy="294.8" r="2.45" fill="#e8892a" stroke="#874a0c" stroke-width="0.9"/>
<circle cx="225.7" cy="294.8" r="2.45" fill="#e8892a" stroke="#874a0c" stroke-width="0.9"/>
<circle cx="209.4" cy="304.0" r="2.45" fill="#e8892a" stroke="#874a0c" stroke-width="0.9"/>
<circle cx="213.4" cy="307.5" r="2.45" fill="#e8892a" stroke="#874a0c" stroke-width="0.9"/>
<circle cx="226.7" cy="309.0" r="2.45" fill="#e8892a" stroke="#874a0c" stroke-width="0.9"/>
<circle cx="231.7" cy="309.0" r="2.45" fill="#e8892a" stroke="#874a0c" stroke-width="0.9"/>
<circle cx="21.0" cy="317.5" r="2.45" fill="#7a7a7a" stroke="#404040" stroke-width="0.9"/>
<circle cx="38.3" cy="317.5" r="2.45" fill="#7a7a7a" stroke="#404040" stroke-width="0.9"/>
<circle cx="40.6" cy="322.1" r="2.45" fill="#7a7a7a" stroke="#404040" stroke-width="0.9"/>
<circle cx="26.1" cy="322.1" r="2.45" fill="#7a7a7a" stroke="#404040" stroke-width="0.9"/>
<circle cx="31.0" cy="322.1" r="2.45" fill="#7a7a7a" stroke="#404040" stroke-width="0.9"/>
<circle cx="27.9" cy="327.3" r="2.45" fill="#7a7a7a" stroke="#404040" stroke-width="0.9"/>
<circle cx="54.4" cy="319.0" r="2.45" fill="#1c9a54" stroke="#0b5229" stroke-width="0.9"/>
<circle cx="47.8" cy="322.7" r="2.45" fill="#1c9a54" stroke="#0b5229" stroke-width="0.9"/>
<circle cx="53.8" cy="324.8" r="2.45" fill="#1c9a54" stroke="#0b5229" stroke-width="0.9"/>
<circle cx="59.4" cy="322.1" r="2.45" fill="#1c9a54" stroke="#0b5229" stroke-width="0.9"/>
<circle cx="67.1" cy="319.8" r="2.45" fill="#1c9a54" stroke="#0b5229" stroke-width="0.9"/>
<circle cx="67.7" cy="327.9" r="2.45" fill="#1c9a54" stroke="#0b5229" stroke-width="0.9"/>
<circle cx="24.4" cy="332.1" r="2.45" fill="#1c9a54" stroke="#0b5229" stroke-width="0.9"/>
<circle cx="38.8" cy="331.0" r="2.45" fill="#1c9a54" stroke="#0b5229" stroke-width="0.9"/>
<circle cx="18.1" cy="339.4" r="2.45" fill="#1c9a54" stroke="#0b5229" stroke-width="0.9"/>
<circle cx="30.2" cy="338.8" r="2.45" fill="#1c9a54" stroke="#0b5229" stroke-width="0.9"/>
<circle cx="33.1" cy="338.0" r="2.45" fill="#1c9a54" stroke="#0b5229" stroke-width="0.9"/>
<circle cx="23.3" cy="344.0" r="2.45" fill="#1c9a54" stroke="#0b5229" stroke-width="0.9"/>
<circle cx="37.7" cy="342.3" r="2.45" fill="#1c9a54" stroke="#0b5229" stroke-width="0.9"/>
<circle cx="45.2" cy="337.5" r="2.45" fill="#1c9a54" stroke="#0b5229" stroke-width="0.9"/>
<circle cx="55.2" cy="337.1" r="2.45" fill="#1c9a54" stroke="#0b5229" stroke-width="0.9"/>
<circle cx="66.5" cy="336.5" r="2.45" fill="#1c9a54" stroke="#0b5229" stroke-width="0.9"/>
<circle cx="18.7" cy="351.5" r="2.45" fill="#1c9a54" stroke="#0b5229" stroke-width="0.9"/>
<circle cx="26.7" cy="350.6" r="2.45" fill="#1c9a54" stroke="#0b5229" stroke-width="0.9"/>
<circle cx="33.1" cy="350.4" r="2.45" fill="#1c9a54" stroke="#0b5229" stroke-width="0.9"/>
<circle cx="41.1" cy="349.4" r="2.45" fill="#1c9a54" stroke="#0b5229" stroke-width="0.9"/>
<circle cx="45.5" cy="349.8" r="2.45" fill="#1c9a54" stroke="#0b5229" stroke-width="0.9"/>
<circle cx="53.8" cy="349.2" r="2.45" fill="#1c9a54" stroke="#0b5229" stroke-width="0.9"/>
<circle cx="51.5" cy="342.5" r="2.45" fill="#1c6abd" stroke="#0c3566" stroke-width="0.9"/>
<circle cx="60.5" cy="340.6" r="2.45" fill="#e8892a" stroke="#874a0c" stroke-width="0.9"/>
<circle cx="66.3" cy="349.8" r="2.45" fill="#e0122a" stroke="#7a0810" stroke-width="0.9"/>
<circle cx="112.1" cy="314.6" r="2.45" fill="#1c9a54" stroke="#0b5229" stroke-width="0.9"/>
<circle cx="120.9" cy="314.6" r="2.45" fill="#e8892a" stroke="#874a0c" stroke-width="0.9"/>
<circle cx="73.1" cy="315.5" r="2.45" fill="#1c9a54" stroke="#0b5229" stroke-width="0.9"/>
<circle cx="99.6" cy="317.5" r="2.45" fill="#1c9a54" stroke="#0b5229" stroke-width="0.9"/>
<circle cx="85.2" cy="321.5" r="2.45" fill="#e8892a" stroke="#874a0c" stroke-width="0.9"/>
<circle cx="93.3" cy="321.5" r="2.45" fill="#e8892a" stroke="#874a0c" stroke-width="0.9"/>
<circle cx="108.3" cy="320.1" r="2.45" fill="#e8892a" stroke="#874a0c" stroke-width="0.9"/>
<circle cx="116.3" cy="322.1" r="2.45" fill="#e8892a" stroke="#874a0c" stroke-width="0.9"/>
<circle cx="101.9" cy="323.8" r="2.45" fill="#e8892a" stroke="#874a0c" stroke-width="0.9"/>
<circle cx="97.3" cy="327.3" r="2.45" fill="#e8892a" stroke="#874a0c" stroke-width="0.9"/>
<circle cx="109.4" cy="326.1" r="2.45" fill="#e8892a" stroke="#874a0c" stroke-width="0.9"/>
<circle cx="116.9" cy="327.3" r="2.45" fill="#e0122a" stroke="#7a0810" stroke-width="0.9"/>
<circle cx="81.1" cy="330.2" r="2.45" fill="#1c9a54" stroke="#0b5229" stroke-width="0.9"/>
<circle cx="80.0" cy="333.1" r="2.45" fill="#1c6abd" stroke="#0c3566" stroke-width="0.9"/>
<circle cx="86.3" cy="329.8" r="2.45" fill="#e8892a" stroke="#874a0c" stroke-width="0.9"/>
<circle cx="94.8" cy="330.8" r="2.45" fill="#e8892a" stroke="#874a0c" stroke-width="0.9"/>
<circle cx="104.2" cy="329.6" r="2.45" fill="#e0122a" stroke="#7a0810" stroke-width="0.9"/>
<circle cx="92.1" cy="334.2" r="2.45" fill="#e0122a" stroke="#7a0810" stroke-width="0.9"/>
<circle cx="123.8" cy="330.2" r="2.45" fill="#e8892a" stroke="#874a0c" stroke-width="0.9"/>
<circle cx="106.5" cy="337.1" r="2.45" fill="#e8892a" stroke="#874a0c" stroke-width="0.9"/>
<circle cx="111.7" cy="337.1" r="2.45" fill="#e8892a" stroke="#874a0c" stroke-width="0.9"/>
<circle cx="120.4" cy="340.0" r="2.45" fill="#e8892a" stroke="#874a0c" stroke-width="0.9"/>
<circle cx="97.9" cy="339.4" r="2.45" fill="#e8892a" stroke="#874a0c" stroke-width="0.9"/>
<circle cx="109.4" cy="342.3" r="2.45" fill="#e0122a" stroke="#7a0810" stroke-width="0.9"/>
<circle cx="70.5" cy="342.6" r="2.45" fill="#e8892a" stroke="#874a0c" stroke-width="0.9"/>
<circle cx="82.9" cy="340.6" r="2.45" fill="#e8892a" stroke="#874a0c" stroke-width="0.9"/>
<circle cx="79.8" cy="344.0" r="2.45" fill="#e8892a" stroke="#874a0c" stroke-width="0.9"/>
<circle cx="88.6" cy="342.9" r="2.45" fill="#e8892a" stroke="#874a0c" stroke-width="0.9"/>
<circle cx="92.1" cy="341.1" r="2.45" fill="#e8892a" stroke="#874a0c" stroke-width="0.9"/>
<circle cx="75.1" cy="346.9" r="2.45" fill="#1c6abd" stroke="#0c3566" stroke-width="0.9"/>
<circle cx="116.7" cy="344.4" r="2.45" fill="#e0122a" stroke="#7a0810" stroke-width="0.9"/>
<circle cx="116.7" cy="349.8" r="2.45" fill="#e0122a" stroke="#7a0810" stroke-width="0.9"/>
<circle cx="89.2" cy="349.2" r="2.45" fill="#e8892a" stroke="#874a0c" stroke-width="0.9"/>
<circle cx="79.4" cy="350.1" r="2.45" fill="#e8892a" stroke="#874a0c" stroke-width="0.9"/>
<circle cx="105.4" cy="349.2" r="2.45" fill="#e8892a" stroke="#874a0c" stroke-width="0.9"/>
<circle cx="82.3" cy="353.6" r="2.45" fill="#e0122a" stroke="#7a0810" stroke-width="0.9"/>
<circle cx="126.9" cy="320.1" r="2.45" fill="#e0122a" stroke="#7a0810" stroke-width="0.9"/>
<circle cx="165.0" cy="316.9" r="2.45" fill="#e8892a" stroke="#874a0c" stroke-width="0.9"/>
<circle cx="144.8" cy="319.2" r="2.45" fill="#e0122a" stroke="#7a0810" stroke-width="0.9"/>
<circle cx="132.5" cy="326.1" r="2.45" fill="#e0122a" stroke="#7a0810" stroke-width="0.9"/>
<circle cx="146.0" cy="327.5" r="2.45" fill="#1c9a54" stroke="#0b5229" stroke-width="0.9"/>
<circle cx="134.4" cy="331.3" r="2.45" fill="#e8892a" stroke="#874a0c" stroke-width="0.9"/>
<circle cx="148.8" cy="333.1" r="2.45" fill="#e0122a" stroke="#7a0810" stroke-width="0.9"/>
<circle cx="161.3" cy="325.0" r="2.45" fill="#e8892a" stroke="#874a0c" stroke-width="0.9"/>
<circle cx="163.8" cy="328.8" r="2.45" fill="#e8892a" stroke="#874a0c" stroke-width="0.9"/>
<circle cx="174.2" cy="331.3" r="2.45" fill="#e8892a" stroke="#874a0c" stroke-width="0.9"/>
<circle cx="178.8" cy="331.3" r="2.45" fill="#e8892a" stroke="#874a0c" stroke-width="0.9"/>
<circle cx="129.8" cy="340.2" r="2.45" fill="#e8892a" stroke="#874a0c" stroke-width="0.9"/>
<circle cx="132.5" cy="344.4" r="2.45" fill="#e0122a" stroke="#7a0810" stroke-width="0.9"/>
<circle cx="141.3" cy="339.8" r="2.45" fill="#e8892a" stroke="#874a0c" stroke-width="0.9"/>
<circle cx="152.3" cy="344.8" r="2.45" fill="#e0122a" stroke="#7a0810" stroke-width="0.9"/>
<circle cx="128.7" cy="349.0" r="2.45" fill="#e0122a" stroke="#7a0810" stroke-width="0.9"/>
<circle cx="136.7" cy="349.8" r="2.45" fill="#e0122a" stroke="#7a0810" stroke-width="0.9"/>
<circle cx="144.8" cy="350.1" r="2.45" fill="#e8892a" stroke="#874a0c" stroke-width="0.9"/>
<circle cx="147.7" cy="349.8" r="2.45" fill="#e8892a" stroke="#874a0c" stroke-width="0.9"/>
<circle cx="171.3" cy="349.2" r="2.45" fill="#e8892a" stroke="#874a0c" stroke-width="0.9"/>
<circle cx="176.5" cy="349.2" r="2.45" fill="#e8892a" stroke="#874a0c" stroke-width="0.9"/>
<circle cx="184.2" cy="317.2" r="2.45" fill="#e8892a" stroke="#874a0c" stroke-width="0.9"/>
<circle cx="188.6" cy="320.4" r="2.45" fill="#e8892a" stroke="#874a0c" stroke-width="0.9"/>
<circle cx="203.3" cy="314.6" r="2.45" fill="#e8892a" stroke="#874a0c" stroke-width="0.9"/>
<circle cx="207.6" cy="317.5" r="2.45" fill="#e8892a" stroke="#874a0c" stroke-width="0.9"/>
<circle cx="223.4" cy="322.1" r="2.45" fill="#e8892a" stroke="#874a0c" stroke-width="0.9"/>
<circle cx="228.6" cy="322.1" r="2.45" fill="#e8892a" stroke="#874a0c" stroke-width="0.9"/>
<circle cx="199.0" cy="329.0" r="2.45" fill="#e8892a" stroke="#874a0c" stroke-width="0.9"/>
<circle cx="204.1" cy="328.8" r="2.45" fill="#e8892a" stroke="#874a0c" stroke-width="0.9"/>
<circle cx="214.2" cy="340.0" r="2.45" fill="#e8892a" stroke="#874a0c" stroke-width="0.9"/>
<circle cx="218.6" cy="337.1" r="2.45" fill="#e8892a" stroke="#874a0c" stroke-width="0.9"/>
<circle cx="189.4" cy="342.3" r="2.45" fill="#e8892a" stroke="#874a0c" stroke-width="0.9"/>
<circle cx="194.4" cy="343.7" r="2.45" fill="#e8892a" stroke="#874a0c" stroke-width="0.9"/>
<circle cx="209.4" cy="349.0" r="2.45" fill="#e8892a" stroke="#874a0c" stroke-width="0.9"/>
<circle cx="214.0" cy="349.0" r="2.45" fill="#e8892a" stroke="#874a0c" stroke-width="0.9"/>
<circle cx="223.4" cy="349.2" r="2.45" fill="#e8892a" stroke="#874a0c" stroke-width="0.9"/>
<circle cx="228.3" cy="346.0" r="2.45" fill="#e8892a" stroke="#874a0c" stroke-width="0.9"/>
<circle cx="240.7" cy="349.5" r="2.45" fill="#e8892a" stroke="#874a0c" stroke-width="0.9"/>
<circle cx="243.4" cy="346.8" r="2.45" fill="#e8892a" stroke="#874a0c" stroke-width="0.9"/>
<circle cx="37.7" cy="354.6" r="2.45" fill="#1c9a54" stroke="#0b5229" stroke-width="0.9"/>
<circle cx="23.3" cy="356.3" r="2.45" fill="#1c9a54" stroke="#0b5229" stroke-width="0.9"/>
<circle cx="64.8" cy="355.2" r="2.45" fill="#e8892a" stroke="#874a0c" stroke-width="0.9"/>
<circle cx="68.8" cy="359.2" r="2.45" fill="#e8892a" stroke="#874a0c" stroke-width="0.9"/>
<circle cx="23.0" cy="361.5" r="2.45" fill="#1c9a54" stroke="#0b5229" stroke-width="0.9"/>
<circle cx="50.9" cy="356.7" r="2.45" fill="#1c9a54" stroke="#0b5229" stroke-width="0.9"/>
<circle cx="49.8" cy="361.8" r="2.45" fill="#e8892a" stroke="#874a0c" stroke-width="0.9"/>
<circle cx="35.4" cy="361.5" r="2.45" fill="#1c9a54" stroke="#0b5229" stroke-width="0.9"/>
<circle cx="37.7" cy="366.7" r="2.45" fill="#e8892a" stroke="#874a0c" stroke-width="0.9"/>
<circle cx="30.5" cy="367.9" r="2.45" fill="#e0122a" stroke="#7a0810" stroke-width="0.9"/>
<circle cx="60.2" cy="363.3" r="2.45" fill="#e8892a" stroke="#874a0c" stroke-width="0.9"/>
<circle cx="56.1" cy="366.7" r="2.45" fill="#1c6abd" stroke="#0c3566" stroke-width="0.9"/>
<circle cx="48.1" cy="368.5" r="2.45" fill="#e8892a" stroke="#874a0c" stroke-width="0.9"/>
<circle cx="65.6" cy="369.8" r="2.45" fill="#e8892a" stroke="#874a0c" stroke-width="0.9"/>
<circle cx="46.3" cy="373.6" r="2.45" fill="#1c9a54" stroke="#0b5229" stroke-width="0.9"/>
<circle cx="61.1" cy="375.1" r="2.45" fill="#1c9a54" stroke="#0b5229" stroke-width="0.9"/>
<circle cx="35.4" cy="378.8" r="2.45" fill="#e0122a" stroke="#7a0810" stroke-width="0.9"/>
<circle cx="45.2" cy="378.3" r="2.45" fill="#1c6abd" stroke="#0c3566" stroke-width="0.9"/>
<circle cx="50.6" cy="378.3" r="2.45" fill="#e8892a" stroke="#874a0c" stroke-width="0.9"/>
<circle cx="65.9" cy="378.8" r="2.45" fill="#e0122a" stroke="#7a0810" stroke-width="0.9"/>
<circle cx="40.6" cy="383.7" r="2.45" fill="#1c6abd" stroke="#0c3566" stroke-width="0.9"/>
<circle cx="45.2" cy="384.0" r="2.45" fill="#e8892a" stroke="#874a0c" stroke-width="0.9"/>
<circle cx="50.4" cy="384.0" r="2.45" fill="#1c6abd" stroke="#0c3566" stroke-width="0.9"/>
<circle cx="56.1" cy="383.4" r="2.45" fill="#e8892a" stroke="#874a0c" stroke-width="0.9"/>
<circle cx="65.1" cy="384.0" r="2.45" fill="#e8892a" stroke="#874a0c" stroke-width="0.9"/>
<circle cx="26.7" cy="386.7" r="2.45" fill="#1c9a54" stroke="#0b5229" stroke-width="0.9"/>
<circle cx="35.4" cy="389.2" r="2.45" fill="#1c6abd" stroke="#0c3566" stroke-width="0.9"/>
<circle cx="40.2" cy="389.2" r="2.45" fill="#e8892a" stroke="#874a0c" stroke-width="0.9"/>
<circle cx="45.2" cy="389.2" r="2.45" fill="#1c6abd" stroke="#0c3566" stroke-width="0.9"/>
<circle cx="50.4" cy="389.2" r="2.45" fill="#e8892a" stroke="#874a0c" stroke-width="0.9"/>
<circle cx="55.3" cy="389.2" r="2.45" fill="#1c6abd" stroke="#0c3566" stroke-width="0.9"/>
<circle cx="60.2" cy="389.2" r="2.45" fill="#e8892a" stroke="#874a0c" stroke-width="0.9"/>
<circle cx="65.4" cy="389.2" r="2.45" fill="#1c6abd" stroke="#0c3566" stroke-width="0.9"/>
<circle cx="69.4" cy="389.2" r="2.45" fill="#e8892a" stroke="#874a0c" stroke-width="0.9"/>
<circle cx="104.8" cy="354.4" r="2.45" fill="#e8892a" stroke="#874a0c" stroke-width="0.9"/>
<circle cx="99.6" cy="357.2" r="2.45" fill="#e0122a" stroke="#7a0810" stroke-width="0.9"/>
<circle cx="88.6" cy="357.8" r="2.45" fill="#e0122a" stroke="#7a0810" stroke-width="0.9"/>
<circle cx="114.6" cy="356.9" r="2.45" fill="#e0122a" stroke="#7a0810" stroke-width="0.9"/>
<circle cx="78.6" cy="359.8" r="2.45" fill="#e8892a" stroke="#874a0c" stroke-width="0.9"/>
<circle cx="85.8" cy="361.5" r="2.45" fill="#e8892a" stroke="#874a0c" stroke-width="0.9"/>
<circle cx="82.3" cy="364.4" r="2.45" fill="#e0122a" stroke="#7a0810" stroke-width="0.9"/>
<circle cx="75.1" cy="366.7" r="2.45" fill="#e0122a" stroke="#7a0810" stroke-width="0.9"/>
<circle cx="88.6" cy="367.1" r="2.45" fill="#e0122a" stroke="#7a0810" stroke-width="0.9"/>
<circle cx="107.1" cy="366.7" r="2.45" fill="#e0122a" stroke="#7a0810" stroke-width="0.9"/>
<circle cx="116.9" cy="364.4" r="2.45" fill="#e0122a" stroke="#7a0810" stroke-width="0.9"/>
<circle cx="121.5" cy="367.1" r="2.45" fill="#e0122a" stroke="#7a0810" stroke-width="0.9"/>
<circle cx="97.9" cy="369.6" r="2.45" fill="#e8892a" stroke="#874a0c" stroke-width="0.9"/>
<circle cx="109.4" cy="371.3" r="2.45" fill="#e0122a" stroke="#7a0810" stroke-width="0.9"/>
<circle cx="115.2" cy="371.9" r="2.45" fill="#e8892a" stroke="#874a0c" stroke-width="0.9"/>
<circle cx="76.0" cy="374.6" r="2.45" fill="#1c6abd" stroke="#0c3566" stroke-width="0.9"/>
<circle cx="81.1" cy="374.8" r="2.45" fill="#e8892a" stroke="#874a0c" stroke-width="0.9"/>
<circle cx="88.3" cy="374.2" r="2.45" fill="#e8892a" stroke="#874a0c" stroke-width="0.9"/>
<circle cx="99.8" cy="374.2" r="2.45" fill="#e0122a" stroke="#7a0810" stroke-width="0.9"/>
<circle cx="110.6" cy="377.1" r="2.45" fill="#e8892a" stroke="#874a0c" stroke-width="0.9"/>
<circle cx="119.2" cy="376.5" r="2.45" fill="#e0122a" stroke="#7a0810" stroke-width="0.9"/>
<circle cx="123.2" cy="376.5" r="2.45" fill="#e0122a" stroke="#7a0810" stroke-width="0.9"/>
<circle cx="75.1" cy="381.7" r="2.45" fill="#e0122a" stroke="#7a0810" stroke-width="0.9"/>
<circle cx="82.3" cy="381.7" r="2.45" fill="#e0122a" stroke="#7a0810" stroke-width="0.9"/>
<circle cx="100.5" cy="379.2" r="2.45" fill="#1c9a54" stroke="#0b5229" stroke-width="0.9"/>
<circle cx="93.8" cy="380.6" r="2.45" fill="#e8892a" stroke="#874a0c" stroke-width="0.9"/>
<circle cx="89.8" cy="384.0" r="2.45" fill="#e0122a" stroke="#7a0810" stroke-width="0.9"/>
<circle cx="110.6" cy="381.4" r="2.45" fill="#1c9a54" stroke="#0b5229" stroke-width="0.9"/>
<circle cx="116.9" cy="382.3" r="2.45" fill="#e8892a" stroke="#874a0c" stroke-width="0.9"/>
<circle cx="122.1" cy="381.7" r="2.45" fill="#e0122a" stroke="#7a0810" stroke-width="0.9"/>
<circle cx="102.5" cy="385.5" r="2.45" fill="#e8892a" stroke="#874a0c" stroke-width="0.9"/>
<circle cx="75.4" cy="389.2" r="2.45" fill="#1c6abd" stroke="#0c3566" stroke-width="0.9"/>
<circle cx="85.2" cy="389.2" r="2.45" fill="#1c6abd" stroke="#0c3566" stroke-width="0.9"/>
<circle cx="90.4" cy="389.2" r="2.45" fill="#e8892a" stroke="#874a0c" stroke-width="0.9"/>
<circle cx="98.2" cy="389.2" r="2.45" fill="#1c6abd" stroke="#0c3566" stroke-width="0.9"/>
<circle cx="109.8" cy="389.2" r="2.45" fill="#e0122a" stroke="#7a0810" stroke-width="0.9"/>
<circle cx="116.9" cy="389.2" r="2.45" fill="#e0122a" stroke="#7a0810" stroke-width="0.9"/>
<circle cx="123.2" cy="389.2" r="2.45" fill="#e0122a" stroke="#7a0810" stroke-width="0.9"/>
<circle cx="127.6" cy="358.7" r="2.45" fill="#e0122a" stroke="#7a0810" stroke-width="0.9"/>
<circle cx="135.3" cy="364.2" r="2.45" fill="#e8892a" stroke="#874a0c" stroke-width="0.9"/>
<circle cx="134.2" cy="369.2" r="2.45" fill="#e8892a" stroke="#874a0c" stroke-width="0.9"/>
<circle cx="126.0" cy="370.3" r="2.45" fill="#e8892a" stroke="#874a0c" stroke-width="0.9"/>
<circle cx="129.3" cy="381.8" r="2.45" fill="#e8892a" stroke="#874a0c" stroke-width="0.9"/>
<circle cx="143.4" cy="384.0" r="2.45" fill="#1c9a54" stroke="#0b5229" stroke-width="0.9"/>
<circle cx="131.5" cy="389.0" r="2.45" fill="#e0122a" stroke="#7a0810" stroke-width="0.9"/>
<circle cx="139.2" cy="389.0" r="2.45" fill="#e0122a" stroke="#7a0810" stroke-width="0.9"/>
<circle cx="195.6" cy="355.1" r="2.45" fill="#e8892a" stroke="#874a0c" stroke-width="0.9"/>
<circle cx="199.0" cy="358.8" r="2.45" fill="#e8892a" stroke="#874a0c" stroke-width="0.9"/>
<circle cx="221.5" cy="360.6" r="2.45" fill="#e8892a" stroke="#874a0c" stroke-width="0.9"/>
<circle cx="223.2" cy="364.0" r="2.45" fill="#e8892a" stroke="#874a0c" stroke-width="0.9"/>
<circle cx="184.6" cy="369.2" r="2.45" fill="#e8892a" stroke="#874a0c" stroke-width="0.9"/>
<circle cx="189.2" cy="369.2" r="2.45" fill="#e8892a" stroke="#874a0c" stroke-width="0.9"/>
<circle cx="209.4" cy="366.7" r="2.45" fill="#e8892a" stroke="#874a0c" stroke-width="0.9"/>
<circle cx="214.0" cy="366.7" r="2.45" fill="#e8892a" stroke="#874a0c" stroke-width="0.9"/>
<circle cx="181.7" cy="375.2" r="2.45" fill="#e8892a" stroke="#874a0c" stroke-width="0.9"/>
<circle cx="185.2" cy="379.0" r="2.45" fill="#e8892a" stroke="#874a0c" stroke-width="0.9"/>
<circle cx="204.0" cy="375.6" r="2.45" fill="#e8892a" stroke="#874a0c" stroke-width="0.9"/>
<circle cx="208.8" cy="375.6" r="2.45" fill="#e8892a" stroke="#874a0c" stroke-width="0.9"/>
<circle cx="197.3" cy="385.9" r="2.45" fill="#e8892a" stroke="#874a0c" stroke-width="0.9"/>
<circle cx="201.0" cy="383.6" r="2.45" fill="#e8892a" stroke="#874a0c" stroke-width="0.9"/>
<circle cx="219.2" cy="386.5" r="2.45" fill="#e8892a" stroke="#874a0c" stroke-width="0.9"/>
<circle cx="223.8" cy="386.5" r="2.45" fill="#e8892a" stroke="#874a0c" stroke-width="0.9"/>
<circle cx="233.7" cy="360.0" r="2.45" fill="#e8892a" stroke="#874a0c" stroke-width="0.9"/>
<circle cx="238.9" cy="360.0" r="2.45" fill="#e8892a" stroke="#874a0c" stroke-width="0.9"/>
<circle cx="236.2" cy="371.4" r="2.45" fill="#e8892a" stroke="#874a0c" stroke-width="0.9"/>
<circle cx="239.2" cy="375.1" r="2.45" fill="#e8892a" stroke="#874a0c" stroke-width="0.9"/>
<circle cx="169.6" cy="358.1" r="2.45" fill="#e8892a" stroke="#874a0c" stroke-width="0.9"/>
<circle cx="171.3" cy="362.1" r="2.45" fill="#e8892a" stroke="#874a0c" stroke-width="0.9"/>
<circle cx="169.8" cy="376.2" r="2.45" fill="#e8892a" stroke="#874a0c" stroke-width="0.9"/>
<circle cx="168.6" cy="379.8" r="2.45" fill="#e8892a" stroke="#874a0c" stroke-width="0.9"/>
<circle cx="301.3" cy="295.0" r="2.45" fill="#e8892a" stroke="#874a0c" stroke-width="0.9"/>
<circle cx="305.1" cy="291.8" r="2.45" fill="#e8892a" stroke="#874a0c" stroke-width="0.9"/>
<circle cx="323.3" cy="290.4" r="2.45" fill="#e8892a" stroke="#874a0c" stroke-width="0.9"/>
<circle cx="322.7" cy="295.2" r="2.45" fill="#e8892a" stroke="#874a0c" stroke-width="0.9"/>
<circle cx="336.5" cy="283.2" r="2.45" fill="#e8892a" stroke="#874a0c" stroke-width="0.9"/>
<circle cx="304.0" cy="303.6" r="2.45" fill="#e8892a" stroke="#874a0c" stroke-width="0.9"/>
<circle cx="307.7" cy="307.1" r="2.45" fill="#e8892a" stroke="#874a0c" stroke-width="0.9"/>
<circle cx="319.2" cy="303.1" r="2.45" fill="#e8892a" stroke="#874a0c" stroke-width="0.9"/>
<circle cx="322.4" cy="306.5" r="2.45" fill="#e8892a" stroke="#874a0c" stroke-width="0.9"/>
<circle cx="341.7" cy="283.2" r="2.45" fill="#e8892a" stroke="#874a0c" stroke-width="0.9"/>
<circle cx="367.1" cy="282.3" r="2.45" fill="#e8892a" stroke="#874a0c" stroke-width="0.9"/>
<circle cx="371.3" cy="285.8" r="2.45" fill="#e8892a" stroke="#874a0c" stroke-width="0.9"/>
<circle cx="384.4" cy="287.5" r="2.45" fill="#e8892a" stroke="#874a0c" stroke-width="0.9"/>
<circle cx="389.2" cy="287.5" r="2.45" fill="#e8892a" stroke="#874a0c" stroke-width="0.9"/>
<circle cx="342.2" cy="295.2" r="2.45" fill="#e8892a" stroke="#874a0c" stroke-width="0.9"/>
<circle cx="346.5" cy="298.7" r="2.45" fill="#e8892a" stroke="#874a0c" stroke-width="0.9"/>
<circle cx="365.2" cy="295.2" r="2.45" fill="#e8892a" stroke="#874a0c" stroke-width="0.9"/>
<circle cx="369.0" cy="298.4" r="2.45" fill="#e8892a" stroke="#874a0c" stroke-width="0.9"/>
<circle cx="381.7" cy="300.5" r="2.45" fill="#e8892a" stroke="#874a0c" stroke-width="0.9"/>
<circle cx="386.7" cy="300.5" r="2.45" fill="#e8892a" stroke="#874a0c" stroke-width="0.9"/>
<circle cx="356.7" cy="307.4" r="2.45" fill="#e8892a" stroke="#874a0c" stroke-width="0.9"/>
<circle cx="361.8" cy="307.4" r="2.45" fill="#e8892a" stroke="#874a0c" stroke-width="0.9"/>
<circle cx="337.3" cy="308.6" r="2.45" fill="#e8892a" stroke="#874a0c" stroke-width="0.9"/>
<circle cx="405.0" cy="282.5" r="2.45" fill="#e8892a" stroke="#874a0c" stroke-width="0.9"/>
<circle cx="405.0" cy="286.9" r="2.45" fill="#e8892a" stroke="#874a0c" stroke-width="0.9"/>
<circle cx="429.2" cy="283.2" r="2.45" fill="#e8892a" stroke="#874a0c" stroke-width="0.9"/>
<circle cx="429.8" cy="287.8" r="2.45" fill="#e8892a" stroke="#874a0c" stroke-width="0.9"/>
<circle cx="439.6" cy="290.6" r="2.45" fill="#e8892a" stroke="#874a0c" stroke-width="0.9"/>
<circle cx="444.8" cy="290.6" r="2.45" fill="#e8892a" stroke="#874a0c" stroke-width="0.9"/>
<circle cx="399.5" cy="301.3" r="2.45" fill="#e8892a" stroke="#874a0c" stroke-width="0.9"/>
<circle cx="402.5" cy="305.1" r="2.45" fill="#e8892a" stroke="#874a0c" stroke-width="0.9"/>
<circle cx="426.3" cy="297.9" r="2.45" fill="#e8892a" stroke="#874a0c" stroke-width="0.9"/>
<circle cx="425.8" cy="302.5" r="2.45" fill="#e8892a" stroke="#874a0c" stroke-width="0.9"/>
<circle cx="445.1" cy="302.8" r="2.45" fill="#e8892a" stroke="#874a0c" stroke-width="0.9"/>
<circle cx="448.8" cy="305.9" r="2.45" fill="#e8892a" stroke="#874a0c" stroke-width="0.9"/>
<circle cx="470.1" cy="289.8" r="2.45" fill="#e8892a" stroke="#874a0c" stroke-width="0.9"/>
<circle cx="474.4" cy="293.3" r="2.45" fill="#e8892a" stroke="#874a0c" stroke-width="0.9"/>
<circle cx="481.7" cy="286.9" r="2.45" fill="#e8892a" stroke="#874a0c" stroke-width="0.9"/>
<circle cx="485.4" cy="283.5" r="2.45" fill="#e8892a" stroke="#874a0c" stroke-width="0.9"/>
<circle cx="487.4" cy="294.8" r="2.45" fill="#e8892a" stroke="#874a0c" stroke-width="0.9"/>
<circle cx="492.9" cy="294.8" r="2.45" fill="#e8892a" stroke="#874a0c" stroke-width="0.9"/>
<circle cx="464.4" cy="300.2" r="2.45" fill="#e8892a" stroke="#874a0c" stroke-width="0.9"/>
<circle cx="468.6" cy="303.3" r="2.45" fill="#e8892a" stroke="#874a0c" stroke-width="0.9"/>
<circle cx="484.8" cy="307.7" r="2.45" fill="#e8892a" stroke="#874a0c" stroke-width="0.9"/>
<circle cx="489.8" cy="307.7" r="2.45" fill="#e8892a" stroke="#874a0c" stroke-width="0.9"/>
<circle cx="475.3" cy="325.6" r="2.45" fill="#e8892a" stroke="#874a0c" stroke-width="0.9"/>
<circle cx="479.7" cy="322.6" r="2.45" fill="#e8892a" stroke="#874a0c" stroke-width="0.9"/>
<circle cx="470.9" cy="334.4" r="2.45" fill="#e8892a" stroke="#874a0c" stroke-width="0.9"/>
<circle cx="475.3" cy="334.4" r="2.45" fill="#e8892a" stroke="#874a0c" stroke-width="0.9"/>
<circle cx="484.9" cy="334.4" r="2.45" fill="#e8892a" stroke="#874a0c" stroke-width="0.9"/>
<circle cx="489.7" cy="331.8" r="2.45" fill="#e8892a" stroke="#874a0c" stroke-width="0.9"/>
<circle cx="501.6" cy="334.9" r="2.45" fill="#e8892a" stroke="#874a0c" stroke-width="0.9"/>
<circle cx="504.3" cy="332.1" r="2.45" fill="#e8892a" stroke="#874a0c" stroke-width="0.9"/>
<circle cx="331.9" cy="309.6" r="2.45" fill="#e8892a" stroke="#874a0c" stroke-width="0.9"/>
<circle cx="331.3" cy="318.6" r="2.45" fill="#e8892a" stroke="#874a0c" stroke-width="0.9"/>
<circle cx="333.6" cy="323.5" r="2.45" fill="#e8892a" stroke="#874a0c" stroke-width="0.9"/>
<circle cx="315.8" cy="328.6" r="2.45" fill="#e8892a" stroke="#874a0c" stroke-width="0.9"/>
<circle cx="320.6" cy="328.6" r="2.45" fill="#e8892a" stroke="#874a0c" stroke-width="0.9"/>
<circle cx="303.6" cy="338.4" r="2.45" fill="#e8892a" stroke="#874a0c" stroke-width="0.9"/>
<circle cx="306.3" cy="343.3" r="2.45" fill="#e8892a" stroke="#874a0c" stroke-width="0.9"/>
<circle cx="320.9" cy="340.8" r="2.45" fill="#e8892a" stroke="#874a0c" stroke-width="0.9"/>
<circle cx="325.6" cy="344.0" r="2.45" fill="#e8892a" stroke="#874a0c" stroke-width="0.9"/>
<circle cx="372.1" cy="318.3" r="2.45" fill="#e8892a" stroke="#874a0c" stroke-width="0.9"/>
<circle cx="375.9" cy="315.1" r="2.45" fill="#e8892a" stroke="#874a0c" stroke-width="0.9"/>
<circle cx="347.5" cy="320.6" r="2.45" fill="#e8892a" stroke="#874a0c" stroke-width="0.9"/>
<circle cx="352.3" cy="322.1" r="2.45" fill="#e8892a" stroke="#874a0c" stroke-width="0.9"/>
<circle cx="385.7" cy="324.4" r="2.45" fill="#e8892a" stroke="#874a0c" stroke-width="0.9"/>
<circle cx="389.8" cy="328.1" r="2.45" fill="#e8892a" stroke="#874a0c" stroke-width="0.9"/>
<circle cx="346.3" cy="327.8" r="2.45" fill="#e8892a" stroke="#874a0c" stroke-width="0.9"/>
<circle cx="350.2" cy="331.3" r="2.45" fill="#e8892a" stroke="#874a0c" stroke-width="0.9"/>
<circle cx="363.6" cy="332.7" r="2.45" fill="#e8892a" stroke="#874a0c" stroke-width="0.9"/>
<circle cx="368.7" cy="332.7" r="2.45" fill="#e8892a" stroke="#874a0c" stroke-width="0.9"/>
<circle cx="340.2" cy="338.2" r="2.45" fill="#e8892a" stroke="#874a0c" stroke-width="0.9"/>
<circle cx="344.5" cy="341.3" r="2.45" fill="#e8892a" stroke="#874a0c" stroke-width="0.9"/>
<circle cx="360.6" cy="345.9" r="2.45" fill="#e8892a" stroke="#874a0c" stroke-width="0.9"/>
<circle cx="365.9" cy="345.9" r="2.45" fill="#e8892a" stroke="#874a0c" stroke-width="0.9"/>
<circle cx="422.3" cy="311.3" r="2.45" fill="#e8892a" stroke="#874a0c" stroke-width="0.9"/>
<circle cx="425.2" cy="315.1" r="2.45" fill="#e8892a" stroke="#874a0c" stroke-width="0.9"/>
<circle cx="406.1" cy="317.5" r="2.45" fill="#e8892a" stroke="#874a0c" stroke-width="0.9"/>
<circle cx="403.6" cy="322.1" r="2.45" fill="#e8892a" stroke="#874a0c" stroke-width="0.9"/>
<circle cx="435.0" cy="317.1" r="2.45" fill="#e8892a" stroke="#874a0c" stroke-width="0.9"/>
<circle cx="440.2" cy="317.1" r="2.45" fill="#e8892a" stroke="#874a0c" stroke-width="0.9"/>
<circle cx="418.8" cy="325.8" r="2.45" fill="#e8892a" stroke="#874a0c" stroke-width="0.9"/>
<circle cx="422.9" cy="329.0" r="2.45" fill="#e8892a" stroke="#874a0c" stroke-width="0.9"/>
<circle cx="432.4" cy="335.0" r="2.45" fill="#e8892a" stroke="#874a0c" stroke-width="0.9"/>
<circle cx="437.3" cy="335.0" r="2.45" fill="#e8892a" stroke="#874a0c" stroke-width="0.9"/>
<circle cx="397.8" cy="338.4" r="2.45" fill="#e8892a" stroke="#874a0c" stroke-width="0.9"/>
<circle cx="395.2" cy="343.3" r="2.45" fill="#e8892a" stroke="#874a0c" stroke-width="0.9"/>
<circle cx="407.5" cy="338.7" r="2.45" fill="#e8892a" stroke="#874a0c" stroke-width="0.9"/>
<circle cx="412.8" cy="338.7" r="2.45" fill="#e8892a" stroke="#874a0c" stroke-width="0.9"/>
<circle cx="459.8" cy="314.8" r="2.45" fill="#e8892a" stroke="#874a0c" stroke-width="0.9"/>
<circle cx="464.8" cy="314.8" r="2.45" fill="#e8892a" stroke="#874a0c" stroke-width="0.9"/>
<circle cx="450.2" cy="328.1" r="2.45" fill="#e8892a" stroke="#874a0c" stroke-width="0.9"/>
<circle cx="455.4" cy="329.5" r="2.45" fill="#e8892a" stroke="#874a0c" stroke-width="0.9"/>
<circle cx="460.2" cy="337.3" r="2.45" fill="#e8892a" stroke="#874a0c" stroke-width="0.9"/>
<circle cx="456.5" cy="341.3" r="2.45" fill="#e8892a" stroke="#874a0c" stroke-width="0.9"/>
<circle cx="494.6" cy="345.4" r="2.45" fill="#e8892a" stroke="#874a0c" stroke-width="0.9"/>
<circle cx="500.1" cy="345.4" r="2.45" fill="#e8892a" stroke="#874a0c" stroke-width="0.9"/>
<circle cx="311.2" cy="355.1" r="2.45" fill="#e8892a" stroke="#874a0c" stroke-width="0.9"/>
<circle cx="316.3" cy="355.1" r="2.45" fill="#e8892a" stroke="#874a0c" stroke-width="0.9"/>
<circle cx="336.2" cy="352.7" r="2.45" fill="#e8892a" stroke="#874a0c" stroke-width="0.9"/>
<circle cx="339.3" cy="352.7" r="2.45" fill="#e8892a" stroke="#874a0c" stroke-width="0.9"/>
<circle cx="355.0" cy="361.2" r="2.45" fill="#e8892a" stroke="#874a0c" stroke-width="0.9"/>
<circle cx="359.2" cy="363.6" r="2.45" fill="#e8892a" stroke="#874a0c" stroke-width="0.9"/>
<circle cx="378.5" cy="348.2" r="2.45" fill="#7a7a7a" stroke="#404040" stroke-width="0.9"/>
<circle cx="375.9" cy="353.1" r="2.45" fill="#7a7a7a" stroke="#404040" stroke-width="0.9"/>
<circle cx="378.3" cy="358.1" r="2.45" fill="#7a7a7a" stroke="#404040" stroke-width="0.9"/>
<circle cx="390.4" cy="352.1" r="2.45" fill="#7a7a7a" stroke="#404040" stroke-width="0.9"/>
<circle cx="387.0" cy="355.5" r="2.45" fill="#7a7a7a" stroke="#404040" stroke-width="0.9"/>
<circle cx="387.0" cy="360.0" r="2.45" fill="#7a7a7a" stroke="#404040" stroke-width="0.9"/>
<circle cx="382.8" cy="363.0" r="2.45" fill="#7a7a7a" stroke="#404040" stroke-width="0.9"/>
<circle cx="390.4" cy="363.0" r="2.45" fill="#7a7a7a" stroke="#404040" stroke-width="0.9"/>
<circle cx="296.5" cy="386.1" r="2.45" fill="#1c6abd" stroke="#0c3566" stroke-width="0.9"/>
<circle cx="301.4" cy="386.1" r="2.45" fill="#e8892a" stroke="#874a0c" stroke-width="0.9"/>
<circle cx="306.2" cy="386.2" r="2.45" fill="#1c6abd" stroke="#0c3566" stroke-width="0.9"/>
<circle cx="311.1" cy="386.3" r="2.45" fill="#e8892a" stroke="#874a0c" stroke-width="0.9"/>
<circle cx="316.0" cy="386.4" r="2.45" fill="#1c6abd" stroke="#0c3566" stroke-width="0.9"/>
<circle cx="320.8" cy="386.5" r="2.45" fill="#e8892a" stroke="#874a0c" stroke-width="0.9"/>
<circle cx="325.7" cy="386.6" r="2.45" fill="#1c6abd" stroke="#0c3566" stroke-width="0.9"/>
<circle cx="330.6" cy="386.7" r="2.45" fill="#e8892a" stroke="#874a0c" stroke-width="0.9"/>
<circle cx="335.4" cy="386.8" r="2.45" fill="#1c6abd" stroke="#0c3566" stroke-width="0.9"/>
<circle cx="340.3" cy="386.9" r="2.45" fill="#e8892a" stroke="#874a0c" stroke-width="0.9"/>
<circle cx="345.1" cy="387.0" r="2.45" fill="#1c6abd" stroke="#0c3566" stroke-width="0.9"/>
<circle cx="350.0" cy="387.1" r="2.45" fill="#e8892a" stroke="#874a0c" stroke-width="0.9"/>
<circle cx="354.9" cy="387.2" r="2.45" fill="#1c6abd" stroke="#0c3566" stroke-width="0.9"/>
<circle cx="359.7" cy="387.3" r="2.45" fill="#e8892a" stroke="#874a0c" stroke-width="0.9"/>
<circle cx="364.6" cy="387.4" r="2.45" fill="#1c6abd" stroke="#0c3566" stroke-width="0.9"/>
<circle cx="369.5" cy="387.5" r="2.45" fill="#e8892a" stroke="#874a0c" stroke-width="0.9"/>
<circle cx="374.3" cy="387.6" r="2.45" fill="#1c6abd" stroke="#0c3566" stroke-width="0.9"/>
<circle cx="379.2" cy="387.7" r="2.45" fill="#e8892a" stroke="#874a0c" stroke-width="0.9"/>
<circle cx="384.1" cy="387.8" r="2.45" fill="#1c6abd" stroke="#0c3566" stroke-width="0.9"/>
<circle cx="388.9" cy="387.9" r="2.45" fill="#e8892a" stroke="#874a0c" stroke-width="0.9"/>
<circle cx="393.8" cy="388.0" r="2.45" fill="#1c6abd" stroke="#0c3566" stroke-width="0.9"/>
<circle cx="398.7" cy="388.1" r="2.45" fill="#e8892a" stroke="#874a0c" stroke-width="0.9"/>
<circle cx="403.5" cy="388.2" r="2.45" fill="#1c6abd" stroke="#0c3566" stroke-width="0.9"/>
<circle cx="408.4" cy="388.3" r="2.45" fill="#e8892a" stroke="#874a0c" stroke-width="0.9"/>
<circle cx="413.3" cy="388.4" r="2.45" fill="#1c6abd" stroke="#0c3566" stroke-width="0.9"/>
<circle cx="418.1" cy="388.5" r="2.45" fill="#e8892a" stroke="#874a0c" stroke-width="0.9"/>
<circle cx="423.0" cy="388.6" r="2.45" fill="#1c6abd" stroke="#0c3566" stroke-width="0.9"/>
<circle cx="427.9" cy="388.7" r="2.45" fill="#e8892a" stroke="#874a0c" stroke-width="0.9"/>
<circle cx="432.7" cy="388.8" r="2.45" fill="#1c6abd" stroke="#0c3566" stroke-width="0.9"/>
<circle cx="437.6" cy="388.9" r="2.45" fill="#e8892a" stroke="#874a0c" stroke-width="0.9"/>
<circle cx="442.5" cy="389.0" r="2.45" fill="#1c6abd" stroke="#0c3566" stroke-width="0.9"/>
<circle cx="447.3" cy="389.1" r="2.45" fill="#e8892a" stroke="#874a0c" stroke-width="0.9"/>
<circle cx="452.2" cy="389.2" r="2.45" fill="#1c6abd" stroke="#0c3566" stroke-width="0.9"/>
<circle cx="457.0" cy="389.3" r="2.45" fill="#e8892a" stroke="#874a0c" stroke-width="0.9"/>
<circle cx="461.9" cy="389.4" r="2.45" fill="#1c6abd" stroke="#0c3566" stroke-width="0.9"/>
<circle cx="466.8" cy="389.5" r="2.45" fill="#e8892a" stroke="#874a0c" stroke-width="0.9"/>
<circle cx="471.6" cy="389.6" r="2.45" fill="#1c6abd" stroke="#0c3566" stroke-width="0.9"/>
<circle cx="476.5" cy="389.7" r="2.45" fill="#e8892a" stroke="#874a0c" stroke-width="0.9"/>
<circle cx="481.4" cy="389.7" r="2.45" fill="#1c6abd" stroke="#0c3566" stroke-width="0.9"/>
<circle cx="486.2" cy="389.8" r="2.45" fill="#e8892a" stroke="#874a0c" stroke-width="0.9"/>
<circle cx="491.1" cy="389.9" r="2.45" fill="#1c6abd" stroke="#0c3566" stroke-width="0.9"/>
<circle cx="296.5" cy="380.9" r="2.45" fill="#e8892a" stroke="#874a0c" stroke-width="0.9"/>
<circle cx="301.4" cy="381.0" r="2.45" fill="#1c6abd" stroke="#0c3566" stroke-width="0.9"/>
<circle cx="306.2" cy="381.1" r="2.45" fill="#e8892a" stroke="#874a0c" stroke-width="0.9"/>
<circle cx="311.1" cy="381.2" r="2.45" fill="#1c6abd" stroke="#0c3566" stroke-width="0.9"/>
<circle cx="316.0" cy="381.3" r="2.45" fill="#e8892a" stroke="#874a0c" stroke-width="0.9"/>
<circle cx="320.8" cy="381.4" r="2.45" fill="#1c6abd" stroke="#0c3566" stroke-width="0.9"/>
<circle cx="325.7" cy="381.5" r="2.45" fill="#e8892a" stroke="#874a0c" stroke-width="0.9"/>
<circle cx="330.6" cy="381.6" r="2.45" fill="#1c6abd" stroke="#0c3566" stroke-width="0.9"/>
<circle cx="335.4" cy="381.7" r="2.45" fill="#e8892a" stroke="#874a0c" stroke-width="0.9"/>
<circle cx="340.3" cy="381.8" r="2.45" fill="#1c6abd" stroke="#0c3566" stroke-width="0.9"/>
<circle cx="345.1" cy="381.9" r="2.45" fill="#e8892a" stroke="#874a0c" stroke-width="0.9"/>
<circle cx="350.0" cy="382.0" r="2.45" fill="#1c6abd" stroke="#0c3566" stroke-width="0.9"/>
<circle cx="354.9" cy="382.1" r="2.45" fill="#e8892a" stroke="#874a0c" stroke-width="0.9"/>
<circle cx="359.7" cy="382.2" r="2.45" fill="#1c6abd" stroke="#0c3566" stroke-width="0.9"/>
<circle cx="364.6" cy="382.3" r="2.45" fill="#e8892a" stroke="#874a0c" stroke-width="0.9"/>
<circle cx="369.5" cy="382.4" r="2.45" fill="#1c6abd" stroke="#0c3566" stroke-width="0.9"/>
<circle cx="374.3" cy="382.5" r="2.45" fill="#e8892a" stroke="#874a0c" stroke-width="0.9"/>
<circle cx="379.2" cy="382.6" r="2.45" fill="#1c6abd" stroke="#0c3566" stroke-width="0.9"/>
<circle cx="384.1" cy="382.7" r="2.45" fill="#e8892a" stroke="#874a0c" stroke-width="0.9"/>
<circle cx="388.9" cy="382.7" r="2.45" fill="#1c6abd" stroke="#0c3566" stroke-width="0.9"/>
<circle cx="393.8" cy="382.8" r="2.45" fill="#e8892a" stroke="#874a0c" stroke-width="0.9"/>
<circle cx="398.7" cy="382.9" r="2.45" fill="#1c6abd" stroke="#0c3566" stroke-width="0.9"/>
<circle cx="403.5" cy="383.0" r="2.45" fill="#e8892a" stroke="#874a0c" stroke-width="0.9"/>
<circle cx="408.4" cy="383.1" r="2.45" fill="#1c6abd" stroke="#0c3566" stroke-width="0.9"/>
<circle cx="413.3" cy="383.2" r="2.45" fill="#e8892a" stroke="#874a0c" stroke-width="0.9"/>
<circle cx="418.1" cy="383.3" r="2.45" fill="#1c6abd" stroke="#0c3566" stroke-width="0.9"/>
<circle cx="423.0" cy="383.4" r="2.45" fill="#e8892a" stroke="#874a0c" stroke-width="0.9"/>
<circle cx="427.9" cy="383.5" r="2.45" fill="#1c6abd" stroke="#0c3566" stroke-width="0.9"/>
<circle cx="432.7" cy="383.6" r="2.45" fill="#e8892a" stroke="#874a0c" stroke-width="0.9"/>
<circle cx="437.6" cy="383.7" r="2.45" fill="#1c6abd" stroke="#0c3566" stroke-width="0.9"/>
<circle cx="442.5" cy="383.8" r="2.45" fill="#e8892a" stroke="#874a0c" stroke-width="0.9"/>
<circle cx="447.3" cy="383.9" r="2.45" fill="#1c6abd" stroke="#0c3566" stroke-width="0.9"/>
<circle cx="457.0" cy="384.1" r="2.45" fill="#1c6abd" stroke="#0c3566" stroke-width="0.9"/>
<circle cx="461.9" cy="384.2" r="2.45" fill="#e8892a" stroke="#874a0c" stroke-width="0.9"/>
<circle cx="466.8" cy="384.3" r="2.45" fill="#1c6abd" stroke="#0c3566" stroke-width="0.9"/>
<circle cx="476.5" cy="384.5" r="2.45" fill="#1c6abd" stroke="#0c3566" stroke-width="0.9"/>
<circle cx="486.2" cy="384.7" r="2.45" fill="#1c6abd" stroke="#0c3566" stroke-width="0.9"/>
<circle cx="296.5" cy="375.8" r="2.45" fill="#1c6abd" stroke="#0c3566" stroke-width="0.9"/>
<circle cx="301.4" cy="375.8" r="2.45" fill="#e8892a" stroke="#874a0c" stroke-width="0.9"/>
<circle cx="306.2" cy="375.9" r="2.45" fill="#1c6abd" stroke="#0c3566" stroke-width="0.9"/>
<circle cx="311.1" cy="376.0" r="2.45" fill="#e8892a" stroke="#874a0c" stroke-width="0.9"/>
<circle cx="316.0" cy="376.1" r="2.45" fill="#1c6abd" stroke="#0c3566" stroke-width="0.9"/>
<circle cx="320.8" cy="376.2" r="2.45" fill="#e8892a" stroke="#874a0c" stroke-width="0.9"/>
<circle cx="325.7" cy="376.3" r="2.45" fill="#1c6abd" stroke="#0c3566" stroke-width="0.9"/>
<circle cx="330.6" cy="376.4" r="2.45" fill="#e8892a" stroke="#874a0c" stroke-width="0.9"/>
<circle cx="335.4" cy="376.5" r="2.45" fill="#1c6abd" stroke="#0c3566" stroke-width="0.9"/>
<circle cx="340.3" cy="376.6" r="2.45" fill="#e8892a" stroke="#874a0c" stroke-width="0.9"/>
<circle cx="345.1" cy="376.7" r="2.45" fill="#1c6abd" stroke="#0c3566" stroke-width="0.9"/>
<circle cx="350.0" cy="376.8" r="2.45" fill="#e8892a" stroke="#874a0c" stroke-width="0.9"/>
<circle cx="354.9" cy="376.9" r="2.45" fill="#1c6abd" stroke="#0c3566" stroke-width="0.9"/>
<circle cx="359.7" cy="377.0" r="2.45" fill="#e8892a" stroke="#874a0c" stroke-width="0.9"/>
<circle cx="364.6" cy="377.1" r="2.45" fill="#1c6abd" stroke="#0c3566" stroke-width="0.9"/>
<circle cx="369.5" cy="377.2" r="2.45" fill="#e8892a" stroke="#874a0c" stroke-width="0.9"/>
<circle cx="374.3" cy="377.3" r="2.45" fill="#1c6abd" stroke="#0c3566" stroke-width="0.9"/>
<circle cx="379.2" cy="377.4" r="2.45" fill="#e8892a" stroke="#874a0c" stroke-width="0.9"/>
<circle cx="384.1" cy="377.5" r="2.45" fill="#1c6abd" stroke="#0c3566" stroke-width="0.9"/>
<circle cx="388.9" cy="377.6" r="2.45" fill="#e8892a" stroke="#874a0c" stroke-width="0.9"/>
<circle cx="393.8" cy="377.7" r="2.45" fill="#1c6abd" stroke="#0c3566" stroke-width="0.9"/>
<circle cx="398.7" cy="377.8" r="2.45" fill="#e8892a" stroke="#874a0c" stroke-width="0.9"/>
<circle cx="403.5" cy="377.9" r="2.45" fill="#1c6abd" stroke="#0c3566" stroke-width="0.9"/>
<circle cx="296.5" cy="370.6" r="2.45" fill="#e8892a" stroke="#874a0c" stroke-width="0.9"/>
<circle cx="301.4" cy="370.7" r="2.45" fill="#1c6abd" stroke="#0c3566" stroke-width="0.9"/>
<circle cx="306.2" cy="370.8" r="2.45" fill="#e8892a" stroke="#874a0c" stroke-width="0.9"/>
<circle cx="311.1" cy="370.9" r="2.45" fill="#1c6abd" stroke="#0c3566" stroke-width="0.9"/>
<circle cx="316.0" cy="371.0" r="2.45" fill="#e8892a" stroke="#874a0c" stroke-width="0.9"/>
<circle cx="320.8" cy="371.1" r="2.45" fill="#1c6abd" stroke="#0c3566" stroke-width="0.9"/>
<circle cx="325.7" cy="371.2" r="2.45" fill="#e8892a" stroke="#874a0c" stroke-width="0.9"/>
<circle cx="330.6" cy="371.3" r="2.45" fill="#1c6abd" stroke="#0c3566" stroke-width="0.9"/>
<circle cx="335.4" cy="371.4" r="2.45" fill="#e8892a" stroke="#874a0c" stroke-width="0.9"/>
<circle cx="340.3" cy="371.5" r="2.45" fill="#1c6abd" stroke="#0c3566" stroke-width="0.9"/>
<circle cx="345.1" cy="371.6" r="2.45" fill="#e8892a" stroke="#874a0c" stroke-width="0.9"/>
<circle cx="350.0" cy="371.7" r="2.45" fill="#1c6abd" stroke="#0c3566" stroke-width="0.9"/>
<circle cx="354.9" cy="371.8" r="2.45" fill="#e8892a" stroke="#874a0c" stroke-width="0.9"/>
<circle cx="359.7" cy="371.9" r="2.45" fill="#1c6abd" stroke="#0c3566" stroke-width="0.9"/>
<circle cx="364.6" cy="372.0" r="2.45" fill="#e8892a" stroke="#874a0c" stroke-width="0.9"/>
<circle cx="369.5" cy="372.1" r="2.45" fill="#1c6abd" stroke="#0c3566" stroke-width="0.9"/>
<circle cx="374.3" cy="372.2" r="2.45" fill="#e8892a" stroke="#874a0c" stroke-width="0.9"/>
<circle cx="379.2" cy="372.3" r="2.45" fill="#1c6abd" stroke="#0c3566" stroke-width="0.9"/>
<circle cx="384.1" cy="372.4" r="2.45" fill="#e8892a" stroke="#874a0c" stroke-width="0.9"/>
<circle cx="388.9" cy="372.4" r="2.45" fill="#1c6abd" stroke="#0c3566" stroke-width="0.9"/>
<circle cx="393.8" cy="372.5" r="2.45" fill="#e8892a" stroke="#874a0c" stroke-width="0.9"/>
<circle cx="398.7" cy="372.6" r="2.45" fill="#1c6abd" stroke="#0c3566" stroke-width="0.9"/>
<circle cx="403.5" cy="372.7" r="2.45" fill="#e8892a" stroke="#874a0c" stroke-width="0.9"/>
<circle cx="406.3" cy="379.3" r="2.45" fill="#e8892a" stroke="#874a0c" stroke-width="0.9"/>
<circle cx="410.8" cy="373.5" r="2.45" fill="#1c6abd" stroke="#0c3566" stroke-width="0.9"/>
<circle cx="410.8" cy="378.1" r="2.45" fill="#1c6abd" stroke="#0c3566" stroke-width="0.9"/>
<circle cx="415.4" cy="378.8" r="2.45" fill="#1c6abd" stroke="#0c3566" stroke-width="0.9"/>
<path d="M399,370 Q394,357 404,349 Q413,343 430,342.8 L462,342.8 Q482,343.5 494,352 Q505,362 504.5,374 Q501,382 490,383 L440,383" fill="none" stroke="#5a7fbf" stroke-width="0.9" stroke-dasharray="2,1.6"/>
<circle cx="460.9" cy="361.3" r="2.45" fill="#1c9a54" stroke="#0b5229" stroke-width="0.9"/>
<circle cx="472.9" cy="373.1" r="2.45" fill="#1c9a54" stroke="#0b5229" stroke-width="0.9"/>
<circle cx="476.0" cy="357.0" r="2.45" fill="#1c9a54" stroke="#0b5229" stroke-width="0.9"/>
<circle cx="427.6" cy="373.0" r="2.45" fill="#1c9a54" stroke="#0b5229" stroke-width="0.9"/>
<circle cx="462.3" cy="350.4" r="2.45" fill="#1c9a54" stroke="#0b5229" stroke-width="0.9"/>
<circle cx="430.1" cy="368.2" r="2.45" fill="#1c9a54" stroke="#0b5229" stroke-width="0.9"/>
<circle cx="497.5" cy="361.0" r="2.45" fill="#1c9a54" stroke="#0b5229" stroke-width="0.9"/>
<circle cx="420.1" cy="354.3" r="2.45" fill="#1c9a54" stroke="#0b5229" stroke-width="0.9"/>
<circle cx="456.8" cy="369.2" r="2.45" fill="#1c9a54" stroke="#0b5229" stroke-width="0.9"/>
<circle cx="468.2" cy="349.8" r="2.45" fill="#1c9a54" stroke="#0b5229" stroke-width="0.9"/>
<circle cx="456.1" cy="353.3" r="2.45" fill="#1c9a54" stroke="#0b5229" stroke-width="0.9"/>
<circle cx="462.7" cy="372.5" r="2.45" fill="#1c9a54" stroke="#0b5229" stroke-width="0.9"/>
<circle cx="415.2" cy="368.6" r="2.45" fill="#1c9a54" stroke="#0b5229" stroke-width="0.9"/>
<circle cx="437.8" cy="369.0" r="2.45" fill="#1c9a54" stroke="#0b5229" stroke-width="0.9"/>
<circle cx="446.0" cy="358.7" r="2.45" fill="#1c9a54" stroke="#0b5229" stroke-width="0.9"/>
<circle cx="420.6" cy="369.1" r="2.45" fill="#1c9a54" stroke="#0b5229" stroke-width="0.9"/>
<circle cx="483.4" cy="369.0" r="2.45" fill="#1c9a54" stroke="#0b5229" stroke-width="0.9"/>
<circle cx="435.7" cy="358.2" r="2.45" fill="#1c9a54" stroke="#0b5229" stroke-width="0.9"/>
<circle cx="486.1" cy="365.8" r="2.45" fill="#1c9a54" stroke="#0b5229" stroke-width="0.9"/>
<circle cx="481.9" cy="372.6" r="2.45" fill="#1c9a54" stroke="#0b5229" stroke-width="0.9"/>
<circle cx="477.2" cy="365.8" r="2.45" fill="#1c9a54" stroke="#0b5229" stroke-width="0.9"/>
<circle cx="460.6" cy="353.4" r="2.45" fill="#1c9a54" stroke="#0b5229" stroke-width="0.9"/>
<circle cx="436.1" cy="349.3" r="2.45" fill="#1c9a54" stroke="#0b5229" stroke-width="0.9"/>
<circle cx="450.2" cy="365.1" r="2.45" fill="#1c9a54" stroke="#0b5229" stroke-width="0.9"/>
<circle cx="434.2" cy="362.4" r="2.45" fill="#1c9a54" stroke="#0b5229" stroke-width="0.9"/>
<circle cx="448.4" cy="368.9" r="2.45" fill="#1c9a54" stroke="#0b5229" stroke-width="0.9"/>
<circle cx="475.0" cy="368.2" r="2.45" fill="#1c9a54" stroke="#0b5229" stroke-width="0.9"/>
<circle cx="455.1" cy="358.4" r="2.45" fill="#1c9a54" stroke="#0b5229" stroke-width="0.9"/>
<circle cx="488.8" cy="360.9" r="2.45" fill="#1c9a54" stroke="#0b5229" stroke-width="0.9"/>
<circle cx="446.8" cy="353.9" r="2.45" fill="#1c9a54" stroke="#0b5229" stroke-width="0.9"/>
<circle cx="411.9" cy="353.9" r="2.45" fill="#1c9a54" stroke="#0b5229" stroke-width="0.9"/>
<circle cx="441.0" cy="364.3" r="2.45" fill="#1c9a54" stroke="#0b5229" stroke-width="0.9"/>
<circle cx="440.5" cy="350.3" r="2.45" fill="#1c9a54" stroke="#0b5229" stroke-width="0.9"/>
<circle cx="465.8" cy="353.9" r="2.45" fill="#1c9a54" stroke="#0b5229" stroke-width="0.9"/>
<circle cx="427.4" cy="358.5" r="2.45" fill="#1c9a54" stroke="#0b5229" stroke-width="0.9"/>
<circle cx="445.9" cy="364.6" r="2.45" fill="#1c9a54" stroke="#0b5229" stroke-width="0.9"/>
<circle cx="403.4" cy="361.5" r="2.45" fill="#1c9a54" stroke="#0b5229" stroke-width="0.9"/>
<circle cx="413.9" cy="365.3" r="2.45" fill="#1c9a54" stroke="#0b5229" stroke-width="0.9"/>
<circle cx="472.9" cy="364.8" r="2.45" fill="#1c9a54" stroke="#0b5229" stroke-width="0.9"/>
<circle cx="431.7" cy="365.8" r="2.45" fill="#1c9a54" stroke="#0b5229" stroke-width="0.9"/>
<circle cx="486.6" cy="357.7" r="2.45" fill="#1c9a54" stroke="#0b5229" stroke-width="0.9"/>
<circle cx="415.8" cy="362.4" r="2.45" fill="#1c9a54" stroke="#0b5229" stroke-width="0.9"/>
<circle cx="431.2" cy="349.2" r="2.45" fill="#1c9a54" stroke="#0b5229" stroke-width="0.9"/>
<circle cx="486.1" cy="351.0" r="2.45" fill="#1c9a54" stroke="#0b5229" stroke-width="0.9"/>
<circle cx="465.0" cy="368.1" r="2.45" fill="#1c9a54" stroke="#0b5229" stroke-width="0.9"/>
<circle cx="429.5" cy="361.1" r="2.45" fill="#1c9a54" stroke="#0b5229" stroke-width="0.9"/>
<circle cx="435.7" cy="373.8" r="2.45" fill="#1c9a54" stroke="#0b5229" stroke-width="0.9"/>
<circle cx="479.9" cy="368.2" r="2.45" fill="#1c9a54" stroke="#0b5229" stroke-width="0.9"/>
<circle cx="478.5" cy="362.0" r="2.45" fill="#1c9a54" stroke="#0b5229" stroke-width="0.9"/>
<circle cx="452.5" cy="360.7" r="2.45" fill="#1c9a54" stroke="#0b5229" stroke-width="0.9"/>
<circle cx="494.3" cy="358.2" r="2.45" fill="#1c9a54" stroke="#0b5229" stroke-width="0.9"/>
<circle cx="490.1" cy="365.7" r="2.45" fill="#1c9a54" stroke="#0b5229" stroke-width="0.9"/>
<circle cx="404.8" cy="365.7" r="2.45" fill="#1c9a54" stroke="#0b5229" stroke-width="0.9"/>
<circle cx="409.8" cy="357.5" r="2.45" fill="#1c9a54" stroke="#0b5229" stroke-width="0.9"/>
<circle cx="411.9" cy="360.6" r="2.45" fill="#1c9a54" stroke="#0b5229" stroke-width="0.9"/>
<circle cx="456.0" cy="360.9" r="2.45" fill="#1c9a54" stroke="#0b5229" stroke-width="0.9"/>
<circle cx="432.6" cy="357.6" r="2.45" fill="#1c9a54" stroke="#0b5229" stroke-width="0.9"/>
<circle cx="481.1" cy="366.1" r="2.45" fill="#1c9a54" stroke="#0b5229" stroke-width="0.9"/>
<circle cx="445.0" cy="350.9" r="2.45" fill="#1c9a54" stroke="#0b5229" stroke-width="0.9"/>
<circle cx="493.2" cy="353.4" r="2.45" fill="#1c9a54" stroke="#0b5229" stroke-width="0.9"/>
<circle cx="468.4" cy="356.8" r="2.45" fill="#1c9a54" stroke="#0b5229" stroke-width="0.9"/>
<circle cx="499.0" cy="365.6" r="2.45" fill="#1c9a54" stroke="#0b5229" stroke-width="0.9"/>
<circle cx="420.0" cy="361.4" r="2.45" fill="#1c9a54" stroke="#0b5229" stroke-width="0.9"/>
<circle cx="481.8" cy="351.0" r="2.45" fill="#1c9a54" stroke="#0b5229" stroke-width="0.9"/>
<circle cx="417.5" cy="364.6" r="2.45" fill="#1c9a54" stroke="#0b5229" stroke-width="0.9"/>
<circle cx="471.6" cy="357.4" r="2.45" fill="#1c9a54" stroke="#0b5229" stroke-width="0.9"/>
<circle cx="471.4" cy="350.3" r="2.45" fill="#1c9a54" stroke="#0b5229" stroke-width="0.9"/>
<circle cx="464.0" cy="365.5" r="2.45" fill="#1c9a54" stroke="#0b5229" stroke-width="0.9"/>
<circle cx="493.3" cy="360.8" r="2.45" fill="#1c9a54" stroke="#0b5229" stroke-width="0.9"/>
<circle cx="470.7" cy="354.9" r="2.45" fill="#1c9a54" stroke="#0b5229" stroke-width="0.9"/>
<circle cx="422.2" cy="350.3" r="2.45" fill="#1c9a54" stroke="#0b5229" stroke-width="0.9"/>
<circle cx="486.7" cy="372.5" r="2.45" fill="#1c9a54" stroke="#0b5229" stroke-width="0.9"/>
<circle cx="439.1" cy="354.8" r="2.45" fill="#1c9a54" stroke="#0b5229" stroke-width="0.9"/>
<circle cx="452.2" cy="368.8" r="2.45" fill="#1c9a54" stroke="#0b5229" stroke-width="0.9"/>
<circle cx="475.2" cy="361.7" r="2.45" fill="#1c9a54" stroke="#0b5229" stroke-width="0.9"/>
<circle cx="426.4" cy="364.4" r="2.45" fill="#1c9a54" stroke="#0b5229" stroke-width="0.9"/>
<circle cx="418.7" cy="357.0" r="2.45" fill="#1c9a54" stroke="#0b5229" stroke-width="0.9"/>
<circle cx="424.3" cy="354.8" r="2.45" fill="#1c9a54" stroke="#0b5229" stroke-width="0.9"/>
<circle cx="476.2" cy="372.7" r="2.45" fill="#1c9a54" stroke="#0b5229" stroke-width="0.9"/>
<circle cx="432.0" cy="373.3" r="2.45" fill="#1c9a54" stroke="#0b5229" stroke-width="0.9"/>
<circle cx="434.3" cy="353.3" r="2.45" fill="#1c9a54" stroke="#0b5229" stroke-width="0.9"/>
<circle cx="449.8" cy="358.3" r="2.45" fill="#1c9a54" stroke="#0b5229" stroke-width="0.9"/>
<circle cx="410.6" cy="368.5" r="2.45" fill="#1c9a54" stroke="#0b5229" stroke-width="0.9"/>
<circle cx="467.9" cy="365.3" r="2.45" fill="#1c9a54" stroke="#0b5229" stroke-width="0.9"/>
<circle cx="442.8" cy="354.1" r="2.45" fill="#1c9a54" stroke="#0b5229" stroke-width="0.9"/>
<circle cx="423.4" cy="366.3" r="2.45" fill="#1c9a54" stroke="#0b5229" stroke-width="0.9"/>
<circle cx="407.6" cy="361.6" r="2.45" fill="#1c9a54" stroke="#0b5229" stroke-width="0.9"/>
<circle cx="405.1" cy="357.8" r="2.45" fill="#1c9a54" stroke="#0b5229" stroke-width="0.9"/>
<circle cx="424.9" cy="362.1" r="2.45" fill="#1c9a54" stroke="#0b5229" stroke-width="0.9"/>
<circle cx="481.7" cy="358.4" r="2.45" fill="#1c9a54" stroke="#0b5229" stroke-width="0.9"/>
<circle cx="439.1" cy="360.5" r="2.45" fill="#1c9a54" stroke="#0b5229" stroke-width="0.9"/>
<circle cx="427.5" cy="349.7" r="2.45" fill="#1c9a54" stroke="#0b5229" stroke-width="0.9"/>
<circle cx="496.1" cy="354.2" r="2.45" fill="#1c9a54" stroke="#0b5229" stroke-width="0.9"/>
<circle cx="487.5" cy="369.1" r="2.45" fill="#1c9a54" stroke="#0b5229" stroke-width="0.9"/>
<circle cx="459.6" cy="350.6" r="2.45" fill="#1c9a54" stroke="#0b5229" stroke-width="0.9"/>
<circle cx="423.0" cy="358.5" r="2.45" fill="#1c9a54" stroke="#0b5229" stroke-width="0.9"/>
<circle cx="465.6" cy="360.8" r="2.45" fill="#1c9a54" stroke="#0b5229" stroke-width="0.9"/>
<circle cx="470.3" cy="361.8" r="2.45" fill="#1c9a54" stroke="#0b5229" stroke-width="0.9"/>
<circle cx="489.4" cy="357.2" r="2.45" fill="#1c9a54" stroke="#0b5229" stroke-width="0.9"/>
<circle cx="429.4" cy="354.7" r="2.45" fill="#1c9a54" stroke="#0b5229" stroke-width="0.9"/>
<circle cx="473.6" cy="353.0" r="2.45" fill="#1c9a54" stroke="#0b5229" stroke-width="0.9"/>
<circle cx="450.1" cy="350.5" r="2.45" fill="#1c9a54" stroke="#0b5229" stroke-width="0.9"/>
<circle cx="423.0" cy="372.6" r="2.45" fill="#1c9a54" stroke="#0b5229" stroke-width="0.9"/>
<circle cx="478.1" cy="354.4" r="2.45" fill="#1c9a54" stroke="#0b5229" stroke-width="0.9"/>
<circle cx="444.8" cy="372.7" r="2.45" fill="#1c9a54" stroke="#0b5229" stroke-width="0.9"/>
<circle cx="477.6" cy="350.6" r="2.45" fill="#1c9a54" stroke="#0b5229" stroke-width="0.9"/>
<circle cx="434.5" cy="368.2" r="2.45" fill="#1c9a54" stroke="#0b5229" stroke-width="0.9"/>
<circle cx="449.0" cy="372.9" r="2.45" fill="#1c9a54" stroke="#0b5229" stroke-width="0.9"/>
<circle cx="459.5" cy="365.9" r="2.45" fill="#1c9a54" stroke="#0b5229" stroke-width="0.9"/>
<circle cx="457.9" cy="357.6" r="2.45" fill="#1c9a54" stroke="#0b5229" stroke-width="0.9"/>
<circle cx="499.3" cy="358.4" r="2.45" fill="#1c9a54" stroke="#0b5229" stroke-width="0.9"/>
<circle cx="447.2" cy="361.7" r="2.45" fill="#1c9a54" stroke="#0b5229" stroke-width="0.9"/>
<circle cx="414.6" cy="356.9" r="2.45" fill="#1c9a54" stroke="#0b5229" stroke-width="0.9"/>
<circle cx="492.9" cy="369.0" r="2.45" fill="#1c9a54" stroke="#0b5229" stroke-width="0.9"/>
<circle cx="442.5" cy="361.9" r="2.45" fill="#1c9a54" stroke="#0b5229" stroke-width="0.9"/>
<circle cx="459.0" cy="372.6" r="2.45" fill="#1c9a54" stroke="#0b5229" stroke-width="0.9"/>
<circle cx="470.5" cy="368.8" r="2.45" fill="#1c9a54" stroke="#0b5229" stroke-width="0.9"/>
<circle cx="484.3" cy="361.1" r="2.45" fill="#1c9a54" stroke="#0b5229" stroke-width="0.9"/>
<circle cx="436.2" cy="365.3" r="2.45" fill="#1c9a54" stroke="#0b5229" stroke-width="0.9"/>
<circle cx="441.0" cy="358.2" r="2.45" fill="#1c9a54" stroke="#0b5229" stroke-width="0.9"/>
<circle cx="468.4" cy="372.0" r="2.45" fill="#1c9a54" stroke="#0b5229" stroke-width="0.9"/>
<circle cx="425.1" cy="370.1" r="2.45" fill="#1c9a54" stroke="#0b5229" stroke-width="0.9"/>
<circle cx="453.4" cy="373.2" r="2.45" fill="#1c9a54" stroke="#0b5229" stroke-width="0.9"/>
<circle cx="452.7" cy="354.4" r="2.45" fill="#1c9a54" stroke="#0b5229" stroke-width="0.9"/>
<circle cx="454.2" cy="378.5" r="2.45" fill="#1c9a54" stroke="#0b5229" stroke-width="0.9"/>
<circle cx="462.7" cy="377.7" r="2.45" fill="#1c9a54" stroke="#0b5229" stroke-width="0.9"/>
<circle cx="470.4" cy="378.9" r="2.45" fill="#1c9a54" stroke="#0b5229" stroke-width="0.9"/>
<circle cx="479.2" cy="378.9" r="2.45" fill="#1c9a54" stroke="#0b5229" stroke-width="0.9"/>
<circle cx="494.1" cy="377.5" r="2.45" fill="#1c9a54" stroke="#0b5229" stroke-width="0.9"/>
<circle cx="505.2" cy="369.8" r="2.45" fill="#1c9a54" stroke="#0b5229" stroke-width="0.9"/>
<circle cx="402.1" cy="357.0" r="2.45" fill="#1c9a54" stroke="#0b5229" stroke-width="0.9"/>
<circle cx="404.3" cy="359.3" r="2.45" fill="#1c9a54" stroke="#0b5229" stroke-width="0.9"/>
<circle cx="402.7" cy="365.4" r="2.45" fill="#1c9a54" stroke="#0b5229" stroke-width="0.9"/>
<circle cx="405.1" cy="369.0" r="2.45" fill="#1c9a54" stroke="#0b5229" stroke-width="0.9"/>
<circle cx="407.5" cy="352.1" r="2.45" fill="#1c9a54" stroke="#0b5229" stroke-width="0.9"/>
<circle cx="425.0" cy="377.7" r="2.45" fill="#e8892a" stroke="#874a0c" stroke-width="0.9"/>
<circle cx="448.8" cy="374.2" r="2.45" fill="#e8892a" stroke="#874a0c" stroke-width="0.9"/>
<circle cx="425.1" cy="377.5" r="2.45" fill="#e8892a" stroke="#874a0c" stroke-width="0.9"/>
<circle cx="140.7" cy="449.2" r="5" fill="#1a6fc0" stroke="#222" stroke-width="0.9"/>
<text x="150.6" y="453.4" font-size="11.5" fill="#161616">B</text>
<circle cx="176.2" cy="449.2" r="5" fill="#e8101a" stroke="#222" stroke-width="0.9"/>
<text x="185.4" y="453.4" font-size="11.5" fill="#161616">B</text><text x="193.5" y="447.5" font-size="6.5" fill="#161616">+</text>
<circle cx="213.5" cy="449.2" r="5" fill="#f08a1c" stroke="#222" stroke-width="0.9"/>
<text x="220.8" y="453.4" font-size="11.5" fill="#161616">N</text>
<circle cx="249.3" cy="449.2" r="5" fill="#14a050" stroke="#222" stroke-width="0.9"/>
<text x="256.5" y="453.4" font-size="11.5" fill="#161616">N</text><text x="265" y="447.5" font-size="6.5" fill="#161616">+</text>
<circle cx="282.8" cy="449" r="5.4" fill="#8a8a8a" stroke="#444" stroke-width="0.9"/>
<circle cx="291.3" cy="446.5" r="5.4" fill="#8a8a8a" stroke="#444" stroke-width="0.9"/>
<circle cx="300.6" cy="449" r="5.4" fill="#8a8a8a" stroke="#444" stroke-width="0.9"/>
<text x="311" y="451.8" font-size="10.3" fill="#161616">Large molecular cluster</text>
</svg>
</body></html>
